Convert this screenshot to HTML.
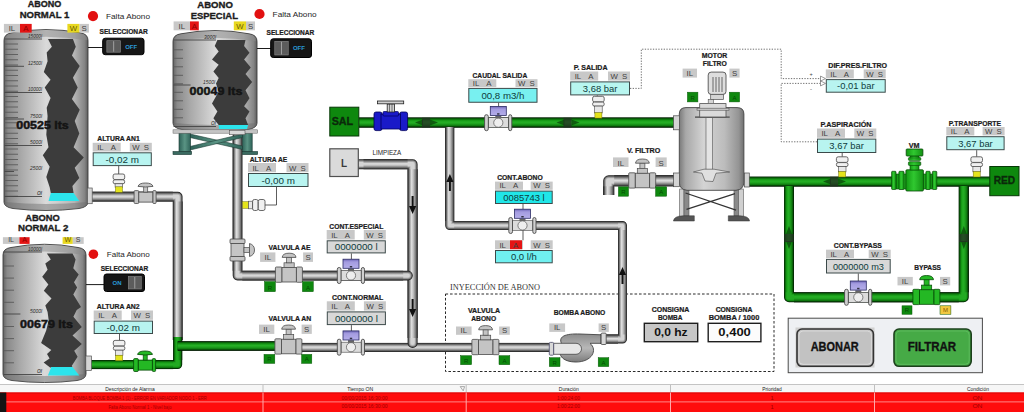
<!DOCTYPE html><html><head><meta charset="utf-8"><style>html,body{margin:0;padding:0;background:#fff;overflow:hidden;width:1024px;height:412px}svg{display:block}</style></head><body>
<svg width="1024" height="412" viewBox="0 0 1024 412" font-family='"Liberation Sans", sans-serif'>
<defs>
<linearGradient id="tg" x1="0" x2="1" y1="0" y2="0">
<stop offset="0" stop-color="#646464"/><stop offset="0.05" stop-color="#8a8a8a"/>
<stop offset="0.2" stop-color="#a8a8a8"/><stop offset="0.36" stop-color="#c2c2c2"/>
<stop offset="0.5" stop-color="#dadada"/><stop offset="0.62" stop-color="#d0d0d0"/>
<stop offset="0.84" stop-color="#b4b4b4"/><stop offset="0.96" stop-color="#848484"/><stop offset="1" stop-color="#5c5c5c"/>
</linearGradient>
<linearGradient id="fg" x1="0" x2="1" y1="0" y2="0">
<stop offset="0" stop-color="#7a7a7a"/><stop offset="0.1" stop-color="#a8a8a8"/>
<stop offset="0.38" stop-color="#d4d4d4"/><stop offset="0.7" stop-color="#bcbcbc"/><stop offset="0.92" stop-color="#949494"/><stop offset="1" stop-color="#707070"/>
</linearGradient>
<linearGradient id="lg" x1="0" x2="1" y1="0" y2="0">
<stop offset="0" stop-color="#2e6258"/><stop offset="0.5" stop-color="#5a9484"/><stop offset="1" stop-color="#2e6258"/>
</linearGradient>
<linearGradient id="vmg" x1="0" x2="1" y1="0" y2="0">
<stop offset="0" stop-color="#129a12"/><stop offset="0.45" stop-color="#30c830"/><stop offset="1" stop-color="#129012"/>
</linearGradient>
<linearGradient id="pg" x1="0" x2="0" y1="0" y2="1">
<stop offset="0" stop-color="#8c8c8c"/><stop offset="0.5" stop-color="#b8b8b8"/><stop offset="1" stop-color="#7c7c7c"/>
</linearGradient>
<linearGradient id="gph" x1="0" x2="0" y1="0" y2="1">
<stop offset="0" stop-color="#1c1c1c"/><stop offset="0.1" stop-color="#4a4a4a"/><stop offset="0.28" stop-color="#9a9a9a"/>
<stop offset="0.45" stop-color="#dedede"/><stop offset="0.6" stop-color="#c6c6c6"/><stop offset="0.8" stop-color="#7c7c7c"/>
<stop offset="0.9" stop-color="#4c4c4c"/><stop offset="1" stop-color="#1c1c1c"/>
</linearGradient>
<linearGradient id="gpv" x1="0" x2="1" y1="0" y2="0">
<stop offset="0" stop-color="#1c1c1c"/><stop offset="0.1" stop-color="#4a4a4a"/><stop offset="0.22" stop-color="#9a9a9a"/>
<stop offset="0.38" stop-color="#dedede"/><stop offset="0.55" stop-color="#c6c6c6"/><stop offset="0.8" stop-color="#7c7c7c"/>
<stop offset="0.9" stop-color="#4c4c4c"/><stop offset="1" stop-color="#1c1c1c"/>
</linearGradient>
<linearGradient id="gnh" x1="0" x2="0" y1="0" y2="1">
<stop offset="0" stop-color="#021c02"/><stop offset="0.1" stop-color="#075a07"/><stop offset="0.28" stop-color="#169a16"/>
<stop offset="0.45" stop-color="#26b026"/><stop offset="0.62" stop-color="#1ea21e"/><stop offset="0.82" stop-color="#0e760e"/>
<stop offset="0.9" stop-color="#054605"/><stop offset="1" stop-color="#011401"/>
</linearGradient>
<linearGradient id="gnv" x1="0" x2="1" y1="0" y2="0">
<stop offset="0" stop-color="#021c02"/><stop offset="0.1" stop-color="#075a07"/><stop offset="0.26" stop-color="#169a16"/>
<stop offset="0.42" stop-color="#26b026"/><stop offset="0.6" stop-color="#1ea21e"/><stop offset="0.82" stop-color="#0e760e"/>
<stop offset="0.9" stop-color="#054605"/><stop offset="1" stop-color="#011401"/>
</linearGradient>
<linearGradient id="fmg" x1="0" x2="0" y1="0" y2="1">
<stop offset="0" stop-color="#6e66b8"/><stop offset="0.3" stop-color="#a49ce0"/><stop offset="1" stop-color="#b4aeea"/>
</linearGradient>
</defs>
<rect x="0.00" y="0.00" width="1024.00" height="412.00" fill="#ffffff" stroke="none" stroke-width="1" rx="0" />
<rect x="445.5" y="294" width="328.5" height="77.5" fill="none" stroke="#2a2a2a" stroke-width="1" stroke-dasharray="2.6,1.9"/>
<path d="M91.0,196.6 L177.7,196.6 L177.7,340.0" fill="none" stroke="#202020" stroke-width="9.7" stroke-linejoin="round" stroke-linecap="butt"/>
<path d="M91.0,196.6 L177.7,196.6 L177.7,340.0" fill="none" stroke="#5a5a5a" stroke-width="8.299999999999999" stroke-linejoin="round" stroke-linecap="butt"/>
<path d="M91.0,196.6 L177.7,196.6 L177.7,340.0" fill="none" stroke="#8a8a8a" stroke-width="6.8999999999999995" stroke-linejoin="round" stroke-linecap="butt"/>
<path d="M91.0,196.6 L177.7,196.6 L177.7,340.0" fill="none" stroke="#b4b4b4" stroke-width="5.499999999999999" stroke-linejoin="round" stroke-linecap="butt"/>
<path d="M91.0,196.6 L177.7,196.6 L177.7,340.0" fill="none" stroke="#d4d4d4" stroke-width="3.8999999999999995" stroke-linejoin="round" stroke-linecap="butt"/>
<rect x="91.00" y="191.75" width="81.85" height="9.7" fill="url(#gph)"/>
<rect x="172.85" y="201.45" width="9.7" height="138.55" fill="url(#gpv)"/>
<path d="M177.7,337.0 L177.7,364.6 L90.0,364.6" fill="none" stroke="#032203" stroke-width="9" stroke-linejoin="round" stroke-linecap="butt"/>
<path d="M177.7,337.0 L177.7,364.6 L90.0,364.6" fill="none" stroke="#0b6c0b" stroke-width="7.4" stroke-linejoin="round" stroke-linecap="butt"/>
<path d="M177.7,337.0 L177.7,364.6 L90.0,364.6" fill="none" stroke="#179a17" stroke-width="5.8" stroke-linejoin="round" stroke-linecap="butt"/>
<path d="M177.7,337.0 L177.7,364.6 L90.0,364.6" fill="none" stroke="#22aa22" stroke-width="4" stroke-linejoin="round" stroke-linecap="butt"/>
<rect x="173.20" y="337.00" width="9" height="23.10" fill="url(#gnv)"/>
<rect x="90.00" y="360.10" width="83.20" height="9" fill="url(#gnh)"/>
<path d="M177.7,346.0 L276.0,346.0" fill="none" stroke="#032203" stroke-width="9.3" stroke-linejoin="round" stroke-linecap="butt"/>
<path d="M177.7,346.0 L276.0,346.0" fill="none" stroke="#0b6c0b" stroke-width="7.700000000000001" stroke-linejoin="round" stroke-linecap="butt"/>
<path d="M177.7,346.0 L276.0,346.0" fill="none" stroke="#179a17" stroke-width="6.1000000000000005" stroke-linejoin="round" stroke-linecap="butt"/>
<path d="M177.7,346.0 L276.0,346.0" fill="none" stroke="#22aa22" stroke-width="4.300000000000001" stroke-linejoin="round" stroke-linecap="butt"/>
<rect x="177.70" y="341.35" width="98.30" height="9.3" fill="url(#gnh)"/>
<path d="M301.0,347.4 L550.0,347.4" fill="none" stroke="#202020" stroke-width="9" stroke-linejoin="round" stroke-linecap="butt"/>
<path d="M301.0,347.4 L550.0,347.4" fill="none" stroke="#5a5a5a" stroke-width="7.6" stroke-linejoin="round" stroke-linecap="butt"/>
<path d="M301.0,347.4 L550.0,347.4" fill="none" stroke="#8a8a8a" stroke-width="6.2" stroke-linejoin="round" stroke-linecap="butt"/>
<path d="M301.0,347.4 L550.0,347.4" fill="none" stroke="#b4b4b4" stroke-width="4.8" stroke-linejoin="round" stroke-linecap="butt"/>
<path d="M301.0,347.4 L550.0,347.4" fill="none" stroke="#d4d4d4" stroke-width="3.2" stroke-linejoin="round" stroke-linecap="butt"/>
<rect x="301.00" y="342.90" width="249.00" height="9" fill="url(#gph)"/>
<path d="M358.5,164.2 L412.6,164.2 L412.6,343.0" fill="none" stroke="#202020" stroke-width="10" stroke-linejoin="round" stroke-linecap="round"/>
<path d="M358.5,164.2 L412.6,164.2 L412.6,343.0" fill="none" stroke="#5a5a5a" stroke-width="8.6" stroke-linejoin="round" stroke-linecap="round"/>
<path d="M358.5,164.2 L412.6,164.2 L412.6,343.0" fill="none" stroke="#8a8a8a" stroke-width="7.2" stroke-linejoin="round" stroke-linecap="round"/>
<path d="M358.5,164.2 L412.6,164.2 L412.6,343.0" fill="none" stroke="#b4b4b4" stroke-width="5.8" stroke-linejoin="round" stroke-linecap="round"/>
<path d="M358.5,164.2 L412.6,164.2 L412.6,343.0" fill="none" stroke="#d4d4d4" stroke-width="4.2" stroke-linejoin="round" stroke-linecap="round"/>
<rect x="363.50" y="159.20" width="44.10" height="10" fill="url(#gph)"/>
<rect x="407.60" y="169.20" width="10" height="168.80" fill="url(#gpv)"/>
<path d="M237.5,133.0 L237.5,275.6 L408.0,275.6" fill="none" stroke="#202020" stroke-width="9.6" stroke-linejoin="round" stroke-linecap="round"/>
<path d="M237.5,133.0 L237.5,275.6 L408.0,275.6" fill="none" stroke="#5a5a5a" stroke-width="8.2" stroke-linejoin="round" stroke-linecap="round"/>
<path d="M237.5,133.0 L237.5,275.6 L408.0,275.6" fill="none" stroke="#8a8a8a" stroke-width="6.8" stroke-linejoin="round" stroke-linecap="round"/>
<path d="M237.5,133.0 L237.5,275.6 L408.0,275.6" fill="none" stroke="#b4b4b4" stroke-width="5.3999999999999995" stroke-linejoin="round" stroke-linecap="round"/>
<path d="M237.5,133.0 L237.5,275.6 L408.0,275.6" fill="none" stroke="#d4d4d4" stroke-width="3.8" stroke-linejoin="round" stroke-linecap="round"/>
<rect x="232.70" y="137.80" width="9.6" height="133.00" fill="url(#gpv)"/>
<rect x="242.30" y="270.80" width="160.90" height="9.6" fill="url(#gph)"/>
<path d="M359.0,122.6 L674.0,122.6" fill="none" stroke="#032203" stroke-width="10" stroke-linejoin="round" stroke-linecap="butt"/>
<path d="M359.0,122.6 L674.0,122.6" fill="none" stroke="#0b6c0b" stroke-width="8.4" stroke-linejoin="round" stroke-linecap="butt"/>
<path d="M359.0,122.6 L674.0,122.6" fill="none" stroke="#179a17" stroke-width="6.8" stroke-linejoin="round" stroke-linecap="butt"/>
<path d="M359.0,122.6 L674.0,122.6" fill="none" stroke="#22aa22" stroke-width="5" stroke-linejoin="round" stroke-linecap="butt"/>
<rect x="359.00" y="117.60" width="315.00" height="10" fill="url(#gnh)"/>
<path d="M449.7,127.0 L449.7,225.5 L622.5,225.5 L622.5,339.0 L600.0,339.0" fill="none" stroke="#202020" stroke-width="9" stroke-linejoin="round" stroke-linecap="butt"/>
<path d="M449.7,127.0 L449.7,225.5 L622.5,225.5 L622.5,339.0 L600.0,339.0" fill="none" stroke="#5a5a5a" stroke-width="7.6" stroke-linejoin="round" stroke-linecap="butt"/>
<path d="M449.7,127.0 L449.7,225.5 L622.5,225.5 L622.5,339.0 L600.0,339.0" fill="none" stroke="#8a8a8a" stroke-width="6.2" stroke-linejoin="round" stroke-linecap="butt"/>
<path d="M449.7,127.0 L449.7,225.5 L622.5,225.5 L622.5,339.0 L600.0,339.0" fill="none" stroke="#b4b4b4" stroke-width="4.8" stroke-linejoin="round" stroke-linecap="butt"/>
<path d="M449.7,127.0 L449.7,225.5 L622.5,225.5 L622.5,339.0 L600.0,339.0" fill="none" stroke="#d4d4d4" stroke-width="3.2" stroke-linejoin="round" stroke-linecap="butt"/>
<rect x="445.20" y="127.00" width="9" height="94.00" fill="url(#gpv)"/>
<rect x="454.20" y="221.00" width="163.80" height="9" fill="url(#gph)"/>
<rect x="618.00" y="230.00" width="9" height="104.50" fill="url(#gpv)"/>
<rect x="600.00" y="334.50" width="18.00" height="9" fill="url(#gph)"/>
<path d="M608.7,195.0 L608.7,180.8 L674.0,180.8" fill="none" stroke="#202020" stroke-width="11" stroke-linejoin="round" stroke-linecap="butt"/>
<path d="M608.7,195.0 L608.7,180.8 L674.0,180.8" fill="none" stroke="#5a5a5a" stroke-width="9.6" stroke-linejoin="round" stroke-linecap="butt"/>
<path d="M608.7,195.0 L608.7,180.8 L674.0,180.8" fill="none" stroke="#8a8a8a" stroke-width="8.2" stroke-linejoin="round" stroke-linecap="butt"/>
<path d="M608.7,195.0 L608.7,180.8 L674.0,180.8" fill="none" stroke="#b4b4b4" stroke-width="6.8" stroke-linejoin="round" stroke-linecap="butt"/>
<path d="M608.7,195.0 L608.7,180.8 L674.0,180.8" fill="none" stroke="#d4d4d4" stroke-width="5.2" stroke-linejoin="round" stroke-linecap="butt"/>
<rect x="603.20" y="186.30" width="11" height="8.70" fill="url(#gpv)"/>
<rect x="614.20" y="175.30" width="59.80" height="11" fill="url(#gph)"/>
<path d="M749.0,181.6 L990.0,181.6" fill="none" stroke="#032203" stroke-width="9.8" stroke-linejoin="round" stroke-linecap="butt"/>
<path d="M749.0,181.6 L990.0,181.6" fill="none" stroke="#0b6c0b" stroke-width="8.200000000000001" stroke-linejoin="round" stroke-linecap="butt"/>
<path d="M749.0,181.6 L990.0,181.6" fill="none" stroke="#179a17" stroke-width="6.6000000000000005" stroke-linejoin="round" stroke-linecap="butt"/>
<path d="M749.0,181.6 L990.0,181.6" fill="none" stroke="#22aa22" stroke-width="4.800000000000001" stroke-linejoin="round" stroke-linecap="butt"/>
<rect x="749.00" y="176.70" width="241.00" height="9.8" fill="url(#gnh)"/>
<path d="M789.0,186.0 L789.0,297.3 L963.8,297.3 L963.8,186.0" fill="none" stroke="#032203" stroke-width="10" stroke-linejoin="round" stroke-linecap="butt"/>
<path d="M789.0,186.0 L789.0,297.3 L963.8,297.3 L963.8,186.0" fill="none" stroke="#0b6c0b" stroke-width="8.4" stroke-linejoin="round" stroke-linecap="butt"/>
<path d="M789.0,186.0 L789.0,297.3 L963.8,297.3 L963.8,186.0" fill="none" stroke="#179a17" stroke-width="6.8" stroke-linejoin="round" stroke-linecap="butt"/>
<path d="M789.0,186.0 L789.0,297.3 L963.8,297.3 L963.8,186.0" fill="none" stroke="#22aa22" stroke-width="5" stroke-linejoin="round" stroke-linecap="butt"/>
<rect x="784.00" y="186.00" width="10" height="106.30" fill="url(#gnv)"/>
<rect x="794.00" y="292.30" width="164.80" height="10" fill="url(#gnh)"/>
<rect x="958.80" y="186.00" width="10" height="106.30" fill="url(#gnv)"/>
<path d="M409.0,206 L416.20000000000005,206 L412.6,214 Z M411.6,196 L413.6,196 L413.6,207 L411.6,207 Z" fill="#111"/>
<path d="M409.0,309 L416.20000000000005,309 L412.6,317 Z M411.6,299 L413.6,299 L413.6,310 L411.6,310 Z" fill="#111"/>
<path d="M446.29999999999995,182 L453.5,182 L449.9,174 Z M448.9,191 L450.9,191 L450.9,181 L448.9,181 Z" fill="#111"/>
<path d="M618.9,275 L626.1,275 L622.5,267 Z M621.5,284 L623.5,284 L623.5,274 L621.5,274 Z" fill="#111"/>
<path d="M415,122.6 L423,119.6 L423,125.6 Z M438,122.6 L430,119.6 L430,125.6 Z" fill="#0a4a0a" opacity="0.8"/>
<rect x="422" y="117.8" width="8" height="9.6" fill="#262e26" opacity="0.75"/>
<path d="M556.5,122.6 L564.5,119.6 L564.5,125.6 Z M579.5,122.6 L571.5,119.6 L571.5,125.6 Z" fill="#0a4a0a" opacity="0.8"/>
<rect x="563.5" y="117.8" width="8" height="9.6" fill="#262e26" opacity="0.75"/>
<path d="M823,181.6 L831,178.6 L831,184.6 Z M846,181.6 L838,178.6 L838,184.6 Z" fill="#0a4a0a" opacity="0.8"/>
<rect x="830" y="176.79999999999998" width="8" height="9.6" fill="#262e26" opacity="0.75"/>
<path d="M789,249 L786,241 L792,241 Z M789,226 L786,234 L792,234 Z" fill="#0a4a0a" opacity="0.8"/>
<rect x="784.2" y="234" width="9.6" height="8" fill="#262e26" opacity="0.75"/>
<path d="M963.8,249 L960.8,241 L966.8,241 Z M963.8,226 L960.8,234 L966.8,234 Z" fill="#0a4a0a" opacity="0.8"/>
<rect x="959.0" y="234" width="9.6" height="8" fill="#262e26" opacity="0.75"/>
<text x="44.5" y="7.2" font-size="9.3" font-weight="bold" text-anchor="middle" fill="#1c1c1c" textLength="33.6" lengthAdjust="spacingAndGlyphs" stroke="#1c1c1c" stroke-width="0.35">ABONO</text>
<text x="44.5" y="18.2" font-size="9.5" font-weight="bold" text-anchor="middle" fill="#1c1c1c" textLength="49.6" lengthAdjust="spacingAndGlyphs" stroke="#1c1c1c" stroke-width="0.35">NORMAL 1</text>
<path d="M4,40.3 Q4,33.8 12,32.8 Q46.0,26.3 80,32.8 Q88,33.8 88,40.3 L88,202 Q88,207 79,208.5 Q46.0,212.5 13,208.5 Q4,207 4,202 Z" fill="url(#tg)" stroke="#3c3c3c" stroke-width="0.9"/>
<path d="M5,40.3 Q5,34.3 12,33.5 Q46.0,27.1 80,33.5 Q87,34.3 87,40.3 Q46.0,33.3 5,40.3 Z" fill="#8a8a8a" opacity="0.5"/>
<path d="M4.5,202 Q46.0,206 87.5,202 Q88,207 79,208.5 Q46.0,212.5 13,208.5 Q4,207 4.5,202 Z" fill="#6a6a6a" opacity="0.45"/>
<polygon points="48,39 72.9,39 75.8,46.7 71.9,55.4 79.7,66.1 72.9,77.7 77.7,87.5 71.9,99.1 79.7,109.8 74.7,121 79.3,133.6 73.6,147.3 83.8,157.6 74.7,167.8 79.3,178 72.4,186 73.6,193 50.8,193 49.7,187.2 46.3,176.9 49.7,166.7 42.8,155.3 48.5,147.3 46.3,134.8 47.6,116 46.7,107.8 50.6,98 44.7,87.5 50.6,79.7 43.8,71.9 47.6,61.2 46.7,52.5 51.9,46.7" fill="#3c3c3c"/>
<polygon points="50.8,193 73.6,193 79.3,201 48.5,201" fill="#2ce4ec"/>
<line x1="4.5" y1="44.0" x2="18" y2="44.0" stroke="#5a5a5a" stroke-width="0.9" />
<line x1="4.5" y1="49.25" x2="18" y2="49.25" stroke="#5a5a5a" stroke-width="0.9" />
<line x1="4.5" y1="54.5" x2="18" y2="54.5" stroke="#5a5a5a" stroke-width="0.9" />
<line x1="4.5" y1="59.75" x2="18" y2="59.75" stroke="#5a5a5a" stroke-width="0.9" />
<line x1="4.5" y1="65.0" x2="18" y2="65.0" stroke="#5a5a5a" stroke-width="0.9" />
<line x1="4.5" y1="70.25" x2="18" y2="70.25" stroke="#5a5a5a" stroke-width="0.9" />
<line x1="4.5" y1="75.5" x2="18" y2="75.5" stroke="#5a5a5a" stroke-width="0.9" />
<line x1="4.5" y1="80.75" x2="18" y2="80.75" stroke="#5a5a5a" stroke-width="0.9" />
<line x1="4.5" y1="86.0" x2="18" y2="86.0" stroke="#5a5a5a" stroke-width="0.9" />
<line x1="4.5" y1="91.25" x2="18" y2="91.25" stroke="#5a5a5a" stroke-width="0.9" />
<line x1="4.5" y1="96.5" x2="18" y2="96.5" stroke="#5a5a5a" stroke-width="0.9" />
<line x1="4.5" y1="101.75" x2="18" y2="101.75" stroke="#5a5a5a" stroke-width="0.9" />
<line x1="4.5" y1="107.0" x2="18" y2="107.0" stroke="#5a5a5a" stroke-width="0.9" />
<line x1="4.5" y1="112.25" x2="18" y2="112.25" stroke="#5a5a5a" stroke-width="0.9" />
<line x1="4.5" y1="117.5" x2="18" y2="117.5" stroke="#5a5a5a" stroke-width="0.9" />
<line x1="4.5" y1="122.75" x2="18" y2="122.75" stroke="#5a5a5a" stroke-width="0.9" />
<line x1="4.5" y1="128.0" x2="18" y2="128.0" stroke="#5a5a5a" stroke-width="0.9" />
<line x1="4.5" y1="133.25" x2="18" y2="133.25" stroke="#5a5a5a" stroke-width="0.9" />
<line x1="4.5" y1="138.5" x2="18" y2="138.5" stroke="#5a5a5a" stroke-width="0.9" />
<line x1="4.5" y1="143.75" x2="18" y2="143.75" stroke="#5a5a5a" stroke-width="0.9" />
<line x1="4.5" y1="149.0" x2="18" y2="149.0" stroke="#5a5a5a" stroke-width="0.9" />
<line x1="4.5" y1="154.25" x2="18" y2="154.25" stroke="#5a5a5a" stroke-width="0.9" />
<line x1="4.5" y1="159.5" x2="18" y2="159.5" stroke="#5a5a5a" stroke-width="0.9" />
<line x1="4.5" y1="164.75" x2="18" y2="164.75" stroke="#5a5a5a" stroke-width="0.9" />
<line x1="4.5" y1="170.0" x2="18" y2="170.0" stroke="#5a5a5a" stroke-width="0.9" />
<line x1="4.5" y1="175.25" x2="18" y2="175.25" stroke="#5a5a5a" stroke-width="0.9" />
<line x1="4.5" y1="180.5" x2="18" y2="180.5" stroke="#5a5a5a" stroke-width="0.9" />
<line x1="4.5" y1="185.75" x2="18" y2="185.75" stroke="#5a5a5a" stroke-width="0.9" />
<line x1="4.5" y1="191.0" x2="18" y2="191.0" stroke="#5a5a5a" stroke-width="0.9" />
<line x1="4.5" y1="196.25" x2="18" y2="196.25" stroke="#5a5a5a" stroke-width="0.9" />
<line x1="4.5" y1="39.0" x2="42" y2="39.0" stroke="#444" stroke-width="0.9" />
<text x="42.0" y="37.7" font-size="6" font-weight="normal" text-anchor="end" fill="#2a2a2a" textLength="14" lengthAdjust="spacingAndGlyphs" font-style="italic">15000l</text>
<line x1="4.5" y1="66.3" x2="24" y2="66.3" stroke="#444" stroke-width="0.9" />
<text x="42.0" y="65.0" font-size="6" font-weight="normal" text-anchor="end" fill="#2a2a2a" textLength="14" lengthAdjust="spacingAndGlyphs" font-style="italic">12500l</text>
<line x1="4.5" y1="92.5" x2="42" y2="92.5" stroke="#444" stroke-width="0.9" />
<text x="42.0" y="91.2" font-size="6" font-weight="normal" text-anchor="end" fill="#2a2a2a" textLength="14" lengthAdjust="spacingAndGlyphs" font-style="italic">10000l</text>
<line x1="4.5" y1="119.0" x2="24" y2="119.0" stroke="#444" stroke-width="0.9" />
<text x="42.0" y="117.7" font-size="6" font-weight="normal" text-anchor="end" fill="#2a2a2a" textLength="12" lengthAdjust="spacingAndGlyphs" font-style="italic">7500l</text>
<line x1="4.5" y1="145.5" x2="42" y2="145.5" stroke="#444" stroke-width="0.9" />
<text x="42.0" y="144.2" font-size="6" font-weight="normal" text-anchor="end" fill="#2a2a2a" textLength="12" lengthAdjust="spacingAndGlyphs" font-style="italic">5000l</text>
<line x1="4.5" y1="171.5" x2="14" y2="171.5" stroke="#444" stroke-width="0.9" />
<text x="42.0" y="170.2" font-size="6" font-weight="normal" text-anchor="end" fill="#2a2a2a" textLength="12" lengthAdjust="spacingAndGlyphs" font-style="italic">2500l</text>
<line x1="4.5" y1="196.5" x2="42" y2="196.5" stroke="#444" stroke-width="0.9" />
<text x="42.0" y="195.2" font-size="6" font-weight="normal" text-anchor="end" fill="#2a2a2a" textLength="5" lengthAdjust="spacingAndGlyphs" font-style="italic">0l</text>
<text x="42.5" y="128.6" font-size="11.5" font-weight="bold" text-anchor="middle" fill="#141414" textLength="52.5" lengthAdjust="spacingAndGlyphs" stroke="#141414" stroke-width="0.5">00525 lts</text>
<rect x="3.90" y="23.90" width="16.10" height="8.70" fill="#c8c8c8" stroke="none" stroke-width="1" rx="0" />
<text x="11.9" y="31.1" font-size="7.8" font-weight="normal" text-anchor="middle" fill="#404040" >IL</text>
<rect x="20.00" y="23.90" width="11.70" height="8.70" fill="#e41414" stroke="none" stroke-width="1" rx="0" />
<text x="25.9" y="31.1" font-size="7.8" font-weight="normal" text-anchor="middle" fill="#8a0000" >A</text>
<rect x="67.40" y="23.90" width="12.20" height="8.70" fill="#e8d820" stroke="none" stroke-width="1" rx="0" />
<text x="73.5" y="31.1" font-size="7.8" font-weight="normal" text-anchor="middle" fill="#6a5a00" >W</text>
<rect x="79.60" y="23.90" width="9.30" height="8.70" fill="#c8c8c8" stroke="none" stroke-width="1" rx="0" />
<text x="84.2" y="31.1" font-size="7.8" font-weight="normal" text-anchor="middle" fill="#404040" >S</text>
<circle cx="93" cy="16.1" r="5.1" fill="#e21010"/>
<text x="106.0" y="19.2" font-size="8.1" font-weight="normal" text-anchor="start" fill="#262626" textLength="44" lengthAdjust="spacingAndGlyphs" >Falta Abono</text>
<text x="123.6" y="34.0" font-size="6.5" font-weight="bold" text-anchor="middle" fill="#1c1c1c" textLength="48.2" lengthAdjust="spacingAndGlyphs" stroke="#1c1c1c" stroke-width="0.22">SELECCIONAR</text>
<line x1="88" y1="47.5" x2="103" y2="47.5" stroke="#1a1a1a" stroke-width="1" />
<rect x="102.70" y="38.20" width="41.30" height="16.50" fill="#161616" stroke="#000" stroke-width="1" rx="2.5" />
<rect x="106.83" y="40.70" width="13.63" height="11.50" fill="#5c5c5c" stroke="#8a8a8a" stroke-width="0.6" rx="0" />
<line x1="113.64450000000001" y1="41.2" x2="113.64450000000001" y2="51.7" stroke="#a0a0a0" stroke-width="1" />
<text x="131.2" y="48.6" font-size="6" font-weight="bold" text-anchor="middle" fill="#2a9ad8" >OFF</text>
<rect x="87.40" y="188.00" width="4.80" height="15.70" fill="#d4d4d4" stroke="#555" stroke-width="0.7" rx="0" />
<text x="215.1" y="7.6" font-size="9.3" font-weight="bold" text-anchor="middle" fill="#1c1c1c" textLength="35.5" lengthAdjust="spacingAndGlyphs" stroke="#1c1c1c" stroke-width="0.35">ABONO</text>
<text x="214.3" y="18.6" font-size="9.5" font-weight="bold" text-anchor="middle" fill="#1c1c1c" textLength="47.3" lengthAdjust="spacingAndGlyphs" stroke="#1c1c1c" stroke-width="0.35">ESPECIAL</text>
<g fill="url(#lg)" stroke="#1c3a34" stroke-width="0.6">
<path d="M190,134 L242.5,146 L242.5,149.5 L190,137.5 Z"/><path d="M190,146.5 L242.5,134 L242.5,137.5 L190,150 Z"/>
<rect x="179.00" y="133.00" width="11.60" height="18.70" fill="url(#lg)" stroke="#1c3a34" stroke-width="0.6" rx="0" />
<rect x="242.40" y="133.00" width="9.80" height="18.70" fill="url(#lg)" stroke="#1c3a34" stroke-width="0.6" rx="0" />
<rect x="173.00" y="151.50" width="18.60" height="3.10" fill="#3a6a60" stroke="#1c3a34" stroke-width="0.6" rx="0" />
<rect x="242.40" y="151.50" width="15.30" height="3.10" fill="#3a6a60" stroke="#1c3a34" stroke-width="0.6" rx="0" />
</g>
<path d="M173,41.3 Q173,34.8 181,33.8 Q215.0,27.3 249,33.8 Q257,34.8 257,41.3 L257,123 Q257,128 248,129.5 Q215.0,133.5 182,129.5 Q173,128 173,123 Z" fill="url(#tg)" stroke="#3c3c3c" stroke-width="0.9"/>
<path d="M174,41.3 Q174,35.3 181,34.5 Q215.0,28.1 249,34.5 Q256,35.3 256,41.3 Q215.0,34.3 174,41.3 Z" fill="#8a8a8a" opacity="0.5"/>
<path d="M173.5,123 Q215.0,127 256.5,123 Q257,128 248,129.5 Q215.0,133.5 182,129.5 Q173,128 173.5,123 Z" fill="#6a6a6a" opacity="0.45"/>
<polygon points="217.4,39.9 245.5,39.9 244.1,46 249.5,52.7 244.1,59.4 250.8,67.4 245.5,74.1 252.1,82.1 245.5,90.2 249.5,98.2 244.1,106.2 249.5,111.6 245.5,118.2 248.1,125 218.7,125 213.4,118.2 217.4,111.6 212,103.5 218.7,91.5 216,83.5 218.7,78.1 213.4,71.5 218.7,64.8 212,59.4 218.7,51.4 214.7,46" fill="#3c3c3c"/>
<polygon points="218.7,125 248.1,125 247,129 219,129" fill="#2ce4ec"/>
<line x1="173.5" y1="49.8" x2="183" y2="49.8" stroke="#5a5a5a" stroke-width="0.9" />
<line x1="173.5" y1="58.3" x2="183" y2="58.3" stroke="#5a5a5a" stroke-width="0.9" />
<line x1="173.5" y1="66.8" x2="183" y2="66.8" stroke="#5a5a5a" stroke-width="0.9" />
<line x1="173.5" y1="75.3" x2="183" y2="75.3" stroke="#5a5a5a" stroke-width="0.9" />
<line x1="173.5" y1="83.8" x2="183" y2="83.8" stroke="#5a5a5a" stroke-width="0.9" />
<line x1="173.5" y1="92.3" x2="183" y2="92.3" stroke="#5a5a5a" stroke-width="0.9" />
<line x1="173.5" y1="100.8" x2="183" y2="100.8" stroke="#5a5a5a" stroke-width="0.9" />
<line x1="173.5" y1="109.3" x2="183" y2="109.3" stroke="#5a5a5a" stroke-width="0.9" />
<line x1="173.5" y1="117.8" x2="183" y2="117.8" stroke="#5a5a5a" stroke-width="0.9" />
<line x1="173.5" y1="40.0" x2="216" y2="40.0" stroke="#444" stroke-width="0.9" />
<text x="216.0" y="38.7" font-size="6" font-weight="normal" text-anchor="end" fill="#2a2a2a" textLength="12" lengthAdjust="spacingAndGlyphs" font-style="italic">3000l</text>
<line x1="173.5" y1="85.0" x2="190.6" y2="85.0" stroke="#444" stroke-width="0.9" />
<text x="215.0" y="83.7" font-size="6" font-weight="normal" text-anchor="end" fill="#2a2a2a" textLength="12" lengthAdjust="spacingAndGlyphs" font-style="italic">1500l</text>
<line x1="173.5" y1="126.5" x2="216" y2="126.5" stroke="#444" stroke-width="0.9" />
<text x="216.0" y="125.2" font-size="6" font-weight="normal" text-anchor="end" fill="#2a2a2a" textLength="5" lengthAdjust="spacingAndGlyphs" font-style="italic">0l</text>
<text x="216.0" y="95.0" font-size="11.5" font-weight="bold" text-anchor="middle" fill="#141414" textLength="52.8" lengthAdjust="spacingAndGlyphs" stroke="#141414" stroke-width="0.5">00049 lts</text>
<rect x="173.00" y="129.80" width="84.70" height="3.40" fill="#c4c4c4" stroke="#666" stroke-width="0.5" rx="0" />
<rect x="229.30" y="130.40" width="15.70" height="4.30" fill="#d8d8d8" stroke="#555" stroke-width="0.6" rx="0" />
<rect x="173.60" y="21.40" width="16.40" height="8.90" fill="#c8c8c8" stroke="none" stroke-width="1" rx="0" />
<text x="181.8" y="28.8" font-size="7.8" font-weight="normal" text-anchor="middle" fill="#404040" >IL</text>
<rect x="190.00" y="21.40" width="8.80" height="8.90" fill="#e41414" stroke="none" stroke-width="1" rx="0" />
<text x="194.4" y="28.8" font-size="7.8" font-weight="normal" text-anchor="middle" fill="#8a0000" >A</text>
<rect x="233.80" y="21.40" width="12.20" height="8.90" fill="#e8d820" stroke="none" stroke-width="1" rx="0" />
<text x="239.9" y="28.8" font-size="7.8" font-weight="normal" text-anchor="middle" fill="#6a5a00" >W</text>
<rect x="246.00" y="21.40" width="9.00" height="8.90" fill="#c8c8c8" stroke="none" stroke-width="1" rx="0" />
<text x="250.5" y="28.8" font-size="7.8" font-weight="normal" text-anchor="middle" fill="#404040" >S</text>
<circle cx="259.5" cy="14" r="5.1" fill="#e21010"/>
<text x="272.6" y="17.2" font-size="8.1" font-weight="normal" text-anchor="start" fill="#262626" textLength="44" lengthAdjust="spacingAndGlyphs" >Falta Abono</text>
<text x="290.4" y="35.0" font-size="6.5" font-weight="bold" text-anchor="middle" fill="#1c1c1c" textLength="47.8" lengthAdjust="spacingAndGlyphs" stroke="#1c1c1c" stroke-width="0.22">SELECCIONAR</text>
<line x1="257" y1="48.5" x2="271" y2="48.5" stroke="#1a1a1a" stroke-width="1" />
<rect x="270.70" y="38.80" width="40.80" height="18.70" fill="#161616" stroke="#000" stroke-width="1" rx="2.5" />
<rect x="274.78" y="41.30" width="13.46" height="13.70" fill="#5c5c5c" stroke="#8a8a8a" stroke-width="0.6" rx="0" />
<line x1="281.512" y1="41.8" x2="281.512" y2="54.5" stroke="#a0a0a0" stroke-width="1" />
<text x="298.9" y="50.2" font-size="6" font-weight="bold" text-anchor="middle" fill="#2a9ad8" >OFF</text>
<text x="42.5" y="220.7" font-size="9.3" font-weight="bold" text-anchor="middle" fill="#1c1c1c" textLength="34.6" lengthAdjust="spacingAndGlyphs" stroke="#1c1c1c" stroke-width="0.35">ABONO</text>
<text x="43.1" y="231.0" font-size="9.5" font-weight="bold" text-anchor="middle" fill="#1c1c1c" textLength="50.4" lengthAdjust="spacingAndGlyphs" stroke="#1c1c1c" stroke-width="0.35">NORMAL 2</text>
<path d="M3,255 Q3,248.5 11,247.5 Q44.5,241 78,247.5 Q86,248.5 86,255 L86,374 Q86,379 77,380.5 Q44.5,384.5 12,380.5 Q3,379 3,374 Z" fill="url(#tg)" stroke="#3c3c3c" stroke-width="0.9"/>
<path d="M4,255 Q4,249 11,248.2 Q44.5,241.8 78,248.2 Q85,249 85,255 Q44.5,248 4,255 Z" fill="#8a8a8a" opacity="0.5"/>
<path d="M3.5,374 Q44.5,378 85.5,374 Q86,379 77,380.5 Q44.5,384.5 12,380.5 Q3,379 3.5,374 Z" fill="#6a6a6a" opacity="0.45"/>
<polygon points="72.5,253.4 75.6,259.6 73.3,268.2 78.7,274.4 74,282.2 77.1,287.6 73.3,294.6 81,307 76.7,310 73.4,316.8 81.8,327 72.5,335.5 81.8,344 74.2,350.7 77.6,356.7 71.7,366 72.5,367 51.3,367 50.4,367.7 43.6,362.6 49.6,358.4 47,354.1 51.3,349.9 41.1,343.1 46.2,330.4 48.7,320.2 47.6,312 45.3,305.5 51.5,298.5 43.8,290.7 48.4,284.5 42.2,276.7 47.6,269.7 45.3,263.5 50.8,259.6 46.9,253.4" fill="#3c3c3c"/>
<polygon points="51.3,366.9 72.5,366.9 79.3,375.4 47.9,375.4" fill="#2ce4ec"/>
<line x1="3.5" y1="266.0" x2="14" y2="266.0" stroke="#5a5a5a" stroke-width="0.9" />
<line x1="3.5" y1="278.1" x2="14" y2="278.1" stroke="#5a5a5a" stroke-width="0.9" />
<line x1="3.5" y1="290.2" x2="14" y2="290.2" stroke="#5a5a5a" stroke-width="0.9" />
<line x1="3.5" y1="302.3" x2="14" y2="302.3" stroke="#5a5a5a" stroke-width="0.9" />
<line x1="3.5" y1="326.5" x2="14" y2="326.5" stroke="#5a5a5a" stroke-width="0.9" />
<line x1="3.5" y1="338.6" x2="14" y2="338.6" stroke="#5a5a5a" stroke-width="0.9" />
<line x1="3.5" y1="350.7" x2="14" y2="350.7" stroke="#5a5a5a" stroke-width="0.9" />
<line x1="3.5" y1="362.8" x2="14" y2="362.8" stroke="#5a5a5a" stroke-width="0.9" />
<line x1="3.5" y1="252.0" x2="42" y2="252.0" stroke="#444" stroke-width="0.9" />
<text x="42.0" y="250.7" font-size="6" font-weight="normal" text-anchor="end" fill="#2a2a2a" textLength="14" lengthAdjust="spacingAndGlyphs" font-style="italic">10000l</text>
<line x1="3.5" y1="314.0" x2="20.4" y2="314.0" stroke="#444" stroke-width="0.9" />
<text x="42.0" y="312.7" font-size="6" font-weight="normal" text-anchor="end" fill="#2a2a2a" textLength="12" lengthAdjust="spacingAndGlyphs" font-style="italic">5000l</text>
<line x1="3.5" y1="374.5" x2="42" y2="374.5" stroke="#444" stroke-width="0.9" />
<text x="42.0" y="373.2" font-size="6" font-weight="normal" text-anchor="end" fill="#2a2a2a" textLength="5" lengthAdjust="spacingAndGlyphs" font-style="italic">0l</text>
<text x="46.5" y="328.0" font-size="11.5" font-weight="bold" text-anchor="middle" fill="#141414" textLength="52.9" lengthAdjust="spacingAndGlyphs" stroke="#141414" stroke-width="0.5">00679 lts</text>
<rect x="2.90" y="237.20" width="16.50" height="6.70" fill="#c8c8c8" stroke="none" stroke-width="1" rx="0" />
<text x="11.1" y="242.4" font-size="7" font-weight="normal" text-anchor="middle" fill="#404040" >IL</text>
<rect x="19.40" y="237.20" width="10.20" height="6.70" fill="#e41414" stroke="none" stroke-width="1" rx="0" />
<text x="24.5" y="242.4" font-size="7" font-weight="normal" text-anchor="middle" fill="#8a0000" >A</text>
<rect x="62.60" y="237.20" width="10.20" height="6.70" fill="#e8d820" stroke="none" stroke-width="1" rx="0" />
<text x="67.7" y="242.4" font-size="7" font-weight="normal" text-anchor="middle" fill="#6a5a00" >W</text>
<rect x="72.80" y="237.20" width="10.90" height="6.70" fill="#c8c8c8" stroke="none" stroke-width="1" rx="0" />
<text x="78.2" y="242.4" font-size="7" font-weight="normal" text-anchor="middle" fill="#404040" >S</text>
<circle cx="93.4" cy="254.2" r="4.8" fill="#e21010"/>
<text x="106.8" y="257.0" font-size="8.1" font-weight="normal" text-anchor="start" fill="#262626" textLength="43" lengthAdjust="spacingAndGlyphs" >Falta Abono</text>
<text x="124.5" y="270.5" font-size="6.5" font-weight="bold" text-anchor="middle" fill="#1c1c1c" textLength="47.6" lengthAdjust="spacingAndGlyphs" stroke="#1c1c1c" stroke-width="0.22">SELECCIONAR</text>
<line x1="86" y1="284.6" x2="104" y2="284.6" stroke="#1a1a1a" stroke-width="1" />
<rect x="104.00" y="274.00" width="40.50" height="17.50" fill="#161616" stroke="#000" stroke-width="1" rx="2.5" />
<rect x="128.30" y="276.50" width="12.96" height="12.50" fill="#5c5c5c" stroke="#8a8a8a" stroke-width="0.6" rx="0" />
<line x1="134.78" y1="277" x2="134.78" y2="288.5" stroke="#a0a0a0" stroke-width="1" />
<text x="117.0" y="284.9" font-size="6" font-weight="bold" text-anchor="middle" fill="#2a9ad8" >ON</text>
<rect x="85.80" y="356.00" width="5.70" height="14.40" fill="#d4d4d4" stroke="#555" stroke-width="0.7" rx="0" />
<text x="118.5" y="141.4" font-size="6.7" font-weight="bold" text-anchor="middle" fill="#1c1c1c" textLength="42.5" lengthAdjust="spacingAndGlyphs" stroke="#1c1c1c" stroke-width="0.22">ALTURA AN1</text>
<rect x="92.70" y="142.80" width="28.00" height="8.70" fill="#c8c8c8" stroke="none" stroke-width="1" rx="0" />
<rect x="129.80" y="142.80" width="22.00" height="8.70" fill="#c8c8c8" stroke="none" stroke-width="1" rx="0" />
<text x="100.4" y="149.9" font-size="7.8" font-weight="normal" text-anchor="middle" fill="#404040" >IL</text>
<text x="113.3" y="149.9" font-size="7.8" font-weight="normal" text-anchor="middle" fill="#404040" >A</text>
<text x="136.0" y="149.9" font-size="7.8" font-weight="normal" text-anchor="middle" fill="#404040" >W</text>
<text x="146.4" y="149.9" font-size="7.8" font-weight="normal" text-anchor="middle" fill="#404040" >S</text>
<rect x="93.20" y="152.80" width="58.10" height="12.80" fill="#b8f4f0" stroke="#3c4a4a" stroke-width="1" rx="0" />
<text x="122.2" y="162.7" font-size="9.9" font-weight="normal" text-anchor="middle" fill="#0e3c3c" textLength="33.5" lengthAdjust="spacingAndGlyphs" >-0,02 m</text>
<line x1="118.7" y1="166" x2="118.7" y2="174" stroke="#333" stroke-width="0.8" />
<rect x="113.10" y="174.00" width="11.60" height="5.60" fill="#f0f0f0" stroke="#444" stroke-width="0.8" rx="1.8" />
<rect x="113.10" y="179.80" width="11.60" height="4.00" fill="#f0f0f0" stroke="#444" stroke-width="0.8" rx="1.8" />
<rect x="115.10" y="183.80" width="7.60" height="3.40" fill="#e8e8e8" stroke="#444" stroke-width="0.6" rx="0" />
<rect x="115.40" y="186.80" width="7.00" height="5.50" fill="#e4e41c" stroke="#707010" stroke-width="0.5" rx="0" />
<rect x="134.10" y="190.60" width="4.70" height="12.90" fill="#c4c4c4" stroke="#4a4a4a" stroke-width="0.8" rx="1" />
<rect x="152.80" y="190.60" width="3.30" height="12.90" fill="#c4c4c4" stroke="#4a4a4a" stroke-width="0.8" rx="1" />
<rect x="138.80" y="192.10" width="14.00" height="10.00" fill="#c4c4c4" stroke="#4a4a4a" stroke-width="0.8" rx="0" />
<rect x="143.70" y="186.60" width="4.00" height="5.50" fill="#c4c4c4" stroke="#4a4a4a" stroke-width="0.7" rx="0" />
<path d="M138.0,186.4 Q139.0,183.0 145.5,183.0 Q152.0,183.0 153.0,186.4 Q145.5,187.6 138.0,186.4 Z" fill="#c4c4c4" stroke="#4a4a4a" stroke-width="0.8"/>
<text x="118.2" y="309.1" font-size="6.7" font-weight="bold" text-anchor="middle" fill="#1c1c1c" textLength="43.0" lengthAdjust="spacingAndGlyphs" stroke="#1c1c1c" stroke-width="0.22">ALTURA AN2</text>
<rect x="93.70" y="310.50" width="28.00" height="9.30" fill="#c8c8c8" stroke="none" stroke-width="1" rx="0" />
<rect x="131.00" y="310.50" width="22.00" height="9.30" fill="#c8c8c8" stroke="none" stroke-width="1" rx="0" />
<text x="101.4" y="318.2" font-size="7.8" font-weight="normal" text-anchor="middle" fill="#404040" >IL</text>
<text x="114.3" y="318.2" font-size="7.8" font-weight="normal" text-anchor="middle" fill="#404040" >A</text>
<text x="137.2" y="318.2" font-size="7.8" font-weight="normal" text-anchor="middle" fill="#404040" >W</text>
<text x="147.6" y="318.2" font-size="7.8" font-weight="normal" text-anchor="middle" fill="#404040" >S</text>
<rect x="94.20" y="321.10" width="58.30" height="12.40" fill="#b8f4f0" stroke="#3c4a4a" stroke-width="1" rx="0" />
<text x="123.3" y="330.8" font-size="9.9" font-weight="normal" text-anchor="middle" fill="#0e3c3c" textLength="33.5" lengthAdjust="spacingAndGlyphs" >-0,02 m</text>
<line x1="119.5" y1="334" x2="119.5" y2="340.4" stroke="#333" stroke-width="0.8" />
<rect x="113.30" y="340.40" width="11.60" height="5.60" fill="#f0f0f0" stroke="#444" stroke-width="0.8" rx="1.8" />
<rect x="113.30" y="346.20" width="11.60" height="4.00" fill="#f0f0f0" stroke="#444" stroke-width="0.8" rx="1.8" />
<rect x="115.30" y="350.20" width="7.60" height="5.40" fill="#e8e8e8" stroke="#444" stroke-width="0.6" rx="0" />
<rect x="115.60" y="355.20" width="7.00" height="5.50" fill="#e4e41c" stroke="#707010" stroke-width="0.5" rx="0" />
<rect x="133.60" y="358.60" width="4.70" height="12.90" fill="#24b824" stroke="#064a06" stroke-width="0.8" rx="1" />
<rect x="152.30" y="358.60" width="3.30" height="12.90" fill="#24b824" stroke="#064a06" stroke-width="0.8" rx="1" />
<rect x="138.30" y="360.10" width="14.00" height="10.00" fill="#24b824" stroke="#064a06" stroke-width="0.8" rx="0" />
<rect x="143.20" y="354.60" width="4.00" height="5.50" fill="#24b824" stroke="#064a06" stroke-width="0.7" rx="0" />
<path d="M137.5,354.40000000000003 Q138.5,351.0 145,351.0 Q151.5,351.0 152.5,354.40000000000003 Q145,355.6 137.5,354.40000000000003 Z" fill="#24b824" stroke="#064a06" stroke-width="0.8"/>
<text x="268.5" y="161.6" font-size="6.7" font-weight="bold" text-anchor="middle" fill="#1c1c1c" textLength="37.6" lengthAdjust="spacingAndGlyphs" stroke="#1c1c1c" stroke-width="0.22">ALTURA AE</text>
<rect x="248.00" y="163.00" width="28.00" height="9.20" fill="#c8c8c8" stroke="none" stroke-width="1" rx="0" />
<rect x="286.50" y="163.00" width="22.00" height="9.20" fill="#c8c8c8" stroke="none" stroke-width="1" rx="0" />
<text x="255.7" y="170.6" font-size="7.8" font-weight="normal" text-anchor="middle" fill="#404040" >IL</text>
<text x="268.6" y="170.6" font-size="7.8" font-weight="normal" text-anchor="middle" fill="#404040" >A</text>
<text x="292.7" y="170.6" font-size="7.8" font-weight="normal" text-anchor="middle" fill="#404040" >W</text>
<text x="303.1" y="170.6" font-size="7.8" font-weight="normal" text-anchor="middle" fill="#404040" >S</text>
<rect x="248.50" y="173.50" width="59.50" height="13.00" fill="#b8f4f0" stroke="#3c4a4a" stroke-width="1" rx="0" />
<text x="278.2" y="183.5" font-size="9.9" font-weight="normal" text-anchor="middle" fill="#0e3c3c" textLength="33.5" lengthAdjust="spacingAndGlyphs" >-0,00 m</text>
<line x1="276.5" y1="187" x2="276.5" y2="205" stroke="#333" stroke-width="0.8" />
<line x1="265" y1="205" x2="276.5" y2="205" stroke="#333" stroke-width="0.8" />
<rect x="242.60" y="201.70" width="6.00" height="6.60" fill="#e4e41c" stroke="#707010" stroke-width="0.5" rx="0" />
<rect x="248.60" y="201.20" width="4.00" height="7.60" fill="#e8e8e8" stroke="#444" stroke-width="0.6" rx="0" />
<rect x="252.60" y="199.50" width="5.50" height="11.00" fill="#f0f0f0" stroke="#444" stroke-width="0.8" rx="1.8" />
<rect x="258.30" y="199.50" width="6.70" height="11.00" fill="#f0f0f0" stroke="#444" stroke-width="0.8" rx="1.8" />
<rect x="230.00" y="239.00" width="15.00" height="4.50" fill="#c4c4c4" stroke="#4a4a4a" stroke-width="0.8" rx="1" />
<rect x="230.00" y="256.50" width="15.00" height="4.50" fill="#c4c4c4" stroke="#4a4a4a" stroke-width="0.8" rx="1" />
<rect x="231.00" y="243.50" width="13.00" height="13.00" fill="#c4c4c4" stroke="#4a4a4a" stroke-width="0.8" rx="0" />
<rect x="244.00" y="247.50" width="5.50" height="5.00" fill="#c4c4c4" stroke="#4a4a4a" stroke-width="0.7" rx="0" />
<path d="M249.5,243.5 Q254.5,245 254.5,250 Q254.5,255 249.5,256.5 Z" fill="#c4c4c4" stroke="#4a4a4a" stroke-width="0.8"/>
<text x="289.5" y="249.9" font-size="6.7" font-weight="bold" text-anchor="middle" fill="#1c1c1c" textLength="41.9" lengthAdjust="spacingAndGlyphs" stroke="#1c1c1c" stroke-width="0.22">VALVULA AE</text>
<rect x="260.10" y="252.40" width="15.30" height="9.50" fill="#c8c8c8" stroke="none" stroke-width="1" rx="0" />
<text x="267.8" y="260.4" font-size="7.8" font-weight="normal" text-anchor="middle" fill="#404040" >IL</text>
<rect x="303.10" y="252.40" width="9.90" height="9.50" fill="#c8c8c8" stroke="none" stroke-width="1" rx="0" />
<text x="308.1" y="260.4" font-size="7.8" font-weight="normal" text-anchor="middle" fill="#404040" >S</text>
<rect x="275.40" y="267.00" width="6.60" height="15.30" fill="#c4c4c4" stroke="#4a4a4a" stroke-width="0.8" rx="1" />
<rect x="296.30" y="267.00" width="6.10" height="15.30" fill="#c4c4c4" stroke="#4a4a4a" stroke-width="0.8" rx="1" />
<rect x="282.00" y="267.40" width="14.30" height="14.60" fill="#c4c4c4" stroke="#4a4a4a" stroke-width="0.8" rx="0" />
<rect x="284.00" y="262.80" width="10.20" height="4.60" fill="#c4c4c4" stroke="#4a4a4a" stroke-width="0.7" rx="0" />
<rect x="286.60" y="257.20" width="5.00" height="5.60" fill="#c4c4c4" stroke="#4a4a4a" stroke-width="0.7" rx="0" />
<path d="M282.2,257.4 Q282.5,253.2 289.1,253.2 Q295.7,253.2 296,257.4 Z" fill="#c4c4c4" stroke="#4a4a4a" stroke-width="0.8"/>
<rect x="264.50" y="281.50" width="10.90" height="10.20" fill="#0e880e" stroke="#0a5a0a" stroke-width="0.5" rx="0" />
<text x="269.9" y="289.7" font-size="6" font-weight="normal" text-anchor="middle" fill="#044a04" >R</text>
<rect x="302.40" y="281.50" width="10.90" height="10.20" fill="#0e880e" stroke="#0a5a0a" stroke-width="0.5" rx="0" />
<text x="307.9" y="289.7" font-size="6" font-weight="normal" text-anchor="middle" fill="#044a04" >A</text>
<text x="356.3" y="228.6" font-size="6.7" font-weight="bold" text-anchor="middle" fill="#1c1c1c" textLength="54.0" lengthAdjust="spacingAndGlyphs" stroke="#1c1c1c" stroke-width="0.22">CONT.ESPECIAL</text>
<rect x="326.70" y="230.00" width="28.00" height="9.50" fill="#c8c8c8" stroke="none" stroke-width="1" rx="0" />
<rect x="363.80" y="230.00" width="22.00" height="9.50" fill="#c8c8c8" stroke="none" stroke-width="1" rx="0" />
<text x="334.4" y="237.9" font-size="7.8" font-weight="normal" text-anchor="middle" fill="#404040" >IL</text>
<text x="347.3" y="237.9" font-size="7.8" font-weight="normal" text-anchor="middle" fill="#404040" >A</text>
<text x="370.0" y="237.9" font-size="7.8" font-weight="normal" text-anchor="middle" fill="#404040" >W</text>
<text x="380.4" y="237.9" font-size="7.8" font-weight="normal" text-anchor="middle" fill="#404040" >S</text>
<rect x="327.20" y="240.80" width="58.10" height="12.10" fill="#d8d8d8" stroke="#3c4a4a" stroke-width="1" rx="0" />
<text x="356.2" y="250.3" font-size="9.9" font-weight="normal" text-anchor="middle" fill="#0e3c3c" textLength="43" lengthAdjust="spacingAndGlyphs" >0000000 l</text>
<line x1="351.4" y1="253.4" x2="351.4" y2="259.2" stroke="#333" stroke-width="0.8" />
<rect x="341.00" y="270.50" width="20.30" height="10.00" fill="#dcdcdc" stroke="#4a4a4a" stroke-width="0.6" rx="0" />
<circle cx="351" cy="275.5" r="4.6" fill="#eeeeee" stroke="#555" stroke-width="0.7"/>
<rect x="337.30" y="267.50" width="3.70" height="16.00" fill="#d0d0d0" stroke="#4a4a4a" stroke-width="0.9" rx="1.8" />
<rect x="361.30" y="267.50" width="3.20" height="16.00" fill="#d0d0d0" stroke="#4a4a4a" stroke-width="0.9" rx="1.8" />
<rect x="348.00" y="268.50" width="6.00" height="2.50" fill="#666" stroke="none" stroke-width="1" rx="0" />
<rect x="343.00" y="259.20" width="16.00" height="9.10" fill="url(#fmg)" stroke="#2c2c64" stroke-width="0.8" rx="0" />
<rect x="349.80" y="266.00" width="2.40" height="1.50" fill="#334" stroke="none" stroke-width="1" rx="0" />
<text x="289.9" y="321.0" font-size="6.7" font-weight="bold" text-anchor="middle" fill="#1c1c1c" textLength="42.8" lengthAdjust="spacingAndGlyphs" stroke="#1c1c1c" stroke-width="0.22">VALVULA AN</text>
<rect x="259.00" y="324.60" width="15.30" height="9.30" fill="#c8c8c8" stroke="none" stroke-width="1" rx="0" />
<text x="266.6" y="332.4" font-size="7.8" font-weight="normal" text-anchor="middle" fill="#404040" >IL</text>
<rect x="301.60" y="324.60" width="10.20" height="9.30" fill="#c8c8c8" stroke="none" stroke-width="1" rx="0" />
<text x="306.7" y="332.4" font-size="7.8" font-weight="normal" text-anchor="middle" fill="#404040" >S</text>
<rect x="274.90" y="338.80" width="6.60" height="15.30" fill="#c4c4c4" stroke="#4a4a4a" stroke-width="0.8" rx="1" />
<rect x="295.80" y="338.80" width="6.10" height="15.30" fill="#c4c4c4" stroke="#4a4a4a" stroke-width="0.8" rx="1" />
<rect x="281.50" y="339.20" width="14.30" height="14.60" fill="#c4c4c4" stroke="#4a4a4a" stroke-width="0.8" rx="0" />
<rect x="283.50" y="334.60" width="10.20" height="4.60" fill="#c4c4c4" stroke="#4a4a4a" stroke-width="0.7" rx="0" />
<rect x="286.10" y="329.00" width="5.00" height="5.60" fill="#c4c4c4" stroke="#4a4a4a" stroke-width="0.7" rx="0" />
<path d="M281.7,329.2 Q282.0,325.0 288.6,325.0 Q295.2,325.0 295.5,329.2 Z" fill="#c4c4c4" stroke="#4a4a4a" stroke-width="0.8"/>
<rect x="264.00" y="354.40" width="10.80" height="9.00" fill="#0e880e" stroke="#0a5a0a" stroke-width="0.5" rx="0" />
<text x="269.4" y="361.4" font-size="6" font-weight="normal" text-anchor="middle" fill="#044a04" >R</text>
<rect x="301.60" y="354.40" width="10.20" height="9.00" fill="#0e880e" stroke="#0a5a0a" stroke-width="0.5" rx="0" />
<text x="306.7" y="361.4" font-size="6" font-weight="normal" text-anchor="middle" fill="#044a04" >A</text>
<text x="357.6" y="299.9" font-size="6.7" font-weight="bold" text-anchor="middle" fill="#1c1c1c" textLength="51.2" lengthAdjust="spacingAndGlyphs" stroke="#1c1c1c" stroke-width="0.22">CONT.NORMAL</text>
<rect x="326.80" y="301.30" width="28.00" height="9.30" fill="#c8c8c8" stroke="none" stroke-width="1" rx="0" />
<rect x="363.90" y="301.30" width="22.00" height="9.30" fill="#c8c8c8" stroke="none" stroke-width="1" rx="0" />
<text x="334.5" y="309.0" font-size="7.8" font-weight="normal" text-anchor="middle" fill="#404040" >IL</text>
<text x="347.4" y="309.0" font-size="7.8" font-weight="normal" text-anchor="middle" fill="#404040" >A</text>
<text x="370.1" y="309.0" font-size="7.8" font-weight="normal" text-anchor="middle" fill="#404040" >W</text>
<text x="380.5" y="309.0" font-size="7.8" font-weight="normal" text-anchor="middle" fill="#404040" >S</text>
<rect x="327.30" y="311.90" width="58.10" height="12.70" fill="#d8d8d8" stroke="#3c4a4a" stroke-width="1" rx="0" />
<text x="356.4" y="321.7" font-size="9.9" font-weight="normal" text-anchor="middle" fill="#0e3c3c" textLength="43" lengthAdjust="spacingAndGlyphs" >0000000 l</text>
<line x1="351.4" y1="325.1" x2="351.4" y2="331.4" stroke="#333" stroke-width="0.8" />
<rect x="341.00" y="342.20" width="20.30" height="10.00" fill="#dcdcdc" stroke="#4a4a4a" stroke-width="0.6" rx="0" />
<circle cx="351" cy="347.2" r="4.6" fill="#eeeeee" stroke="#555" stroke-width="0.7"/>
<rect x="337.30" y="339.20" width="3.70" height="16.00" fill="#d0d0d0" stroke="#4a4a4a" stroke-width="0.9" rx="1.8" />
<rect x="361.30" y="339.20" width="3.20" height="16.00" fill="#d0d0d0" stroke="#4a4a4a" stroke-width="0.9" rx="1.8" />
<rect x="348.00" y="340.20" width="6.00" height="2.50" fill="#666" stroke="none" stroke-width="1" rx="0" />
<rect x="343.00" y="330.90" width="16.00" height="9.10" fill="url(#fmg)" stroke="#2c2c64" stroke-width="0.8" rx="0" />
<rect x="349.80" y="337.70" width="2.40" height="1.50" fill="#334" stroke="none" stroke-width="1" rx="0" />
<rect x="329.80" y="148.80" width="28.50" height="27.70" fill="#dadada" stroke="#505050" stroke-width="1.2" rx="0" />
<text x="344.0" y="166.5" font-size="10" font-weight="bold" text-anchor="middle" fill="#3a3a3a" >L</text>
<text x="386.8" y="155.0" font-size="6.3" font-weight="normal" text-anchor="middle" fill="#262626" textLength="28.8" lengthAdjust="spacingAndGlyphs" >LIMPIEZA</text>
<rect x="329.80" y="107.20" width="29.00" height="28.80" fill="#0e880e" stroke="#063806" stroke-width="1" rx="0" />
<text x="342.4" y="125.0" font-size="10" font-weight="bold" text-anchor="middle" fill="#0a2a0a" textLength="21.5" lengthAdjust="spacingAndGlyphs" stroke="#0a2a0a" stroke-width="0.3">SAL</text>
<rect x="374.00" y="112.00" width="8.00" height="18.60" fill="#1a1ac8" stroke="#00005a" stroke-width="0.8" rx="2" />
<rect x="399.60" y="112.00" width="8.00" height="18.60" fill="#1a1ac8" stroke="#00005a" stroke-width="0.8" rx="2" />
<rect x="381.00" y="114.00" width="19.60" height="15.00" fill="#1a1ac8" stroke="#00005a" stroke-width="0.8" rx="0" />
<rect x="383.00" y="111.50" width="15.50" height="4.50" fill="#1a1ac8" stroke="#00005a" stroke-width="0.7" rx="1" />
<rect x="387.20" y="104.00" width="7.30" height="8.00" fill="#d0d0d0" stroke="#222" stroke-width="0.8" rx="0" />
<line x1="389.5" y1="104" x2="389.5" y2="112" stroke="#333" stroke-width="0.6" />
<line x1="392" y1="104" x2="392" y2="112" stroke="#333" stroke-width="0.6" />
<rect x="377.50" y="101.00" width="26.20" height="2.80" fill="#d0d0d0" stroke="#222" stroke-width="0.8" rx="0" />
<text x="499.9" y="77.8" font-size="6.7" font-weight="bold" text-anchor="middle" fill="#1c1c1c" textLength="54.7" lengthAdjust="spacingAndGlyphs" stroke="#1c1c1c" stroke-width="0.22">CAUDAL SALIDA</text>
<rect x="468.30" y="79.20" width="28.00" height="7.90" fill="#c8c8c8" stroke="none" stroke-width="1" rx="0" />
<rect x="515.50" y="79.20" width="22.00" height="7.90" fill="#c8c8c8" stroke="none" stroke-width="1" rx="0" />
<text x="476.0" y="85.5" font-size="7.8" font-weight="normal" text-anchor="middle" fill="#404040" >IL</text>
<text x="488.9" y="85.5" font-size="7.8" font-weight="normal" text-anchor="middle" fill="#404040" >A</text>
<text x="521.7" y="85.5" font-size="7.8" font-weight="normal" text-anchor="middle" fill="#404040" >W</text>
<text x="532.1" y="85.5" font-size="7.8" font-weight="normal" text-anchor="middle" fill="#404040" >S</text>
<rect x="468.80" y="88.40" width="68.20" height="13.85" fill="#78f0f0" stroke="#3c4a4a" stroke-width="1" rx="0" />
<text x="502.9" y="98.8" font-size="9.9" font-weight="normal" text-anchor="middle" fill="#0e3c3c" textLength="43" lengthAdjust="spacingAndGlyphs" >00,8 m3/h</text>
<line x1="498.6" y1="102.75" x2="498.6" y2="106.5" stroke="#333" stroke-width="0.8" />
<rect x="488.30" y="117.70" width="20.30" height="10.00" fill="#dcdcdc" stroke="#4a4a4a" stroke-width="0.6" rx="0" />
<circle cx="498.3" cy="122.7" r="4.6" fill="#eeeeee" stroke="#555" stroke-width="0.7"/>
<rect x="484.60" y="114.70" width="3.70" height="16.00" fill="#d0d0d0" stroke="#4a4a4a" stroke-width="0.9" rx="1.8" />
<rect x="508.60" y="114.70" width="3.20" height="16.00" fill="#d0d0d0" stroke="#4a4a4a" stroke-width="0.9" rx="1.8" />
<rect x="495.30" y="115.70" width="6.00" height="2.50" fill="#666" stroke="none" stroke-width="1" rx="0" />
<rect x="490.30" y="106.40" width="16.00" height="9.10" fill="url(#fmg)" stroke="#2c2c64" stroke-width="0.8" rx="0" />
<rect x="497.10" y="113.20" width="2.40" height="1.50" fill="#334" stroke="none" stroke-width="1" rx="0" />
<text x="590.6" y="70.1" font-size="6.7" font-weight="bold" text-anchor="middle" fill="#1c1c1c" textLength="33.9" lengthAdjust="spacingAndGlyphs" stroke="#1c1c1c" stroke-width="0.22">P. SALIDA</text>
<rect x="570.20" y="71.50" width="28.00" height="9.10" fill="#c8c8c8" stroke="none" stroke-width="1" rx="0" />
<rect x="608.00" y="71.50" width="22.00" height="9.10" fill="#c8c8c8" stroke="none" stroke-width="1" rx="0" />
<text x="577.9" y="79.0" font-size="7.8" font-weight="normal" text-anchor="middle" fill="#404040" >IL</text>
<text x="590.8" y="79.0" font-size="7.8" font-weight="normal" text-anchor="middle" fill="#404040" >A</text>
<text x="614.2" y="79.0" font-size="7.8" font-weight="normal" text-anchor="middle" fill="#404040" >W</text>
<text x="624.6" y="79.0" font-size="7.8" font-weight="normal" text-anchor="middle" fill="#404040" >S</text>
<rect x="570.70" y="81.90" width="58.80" height="13.00" fill="#b8f6f0" stroke="#3c4a4a" stroke-width="1" rx="0" />
<text x="600.1" y="91.9" font-size="9.9" font-weight="normal" text-anchor="middle" fill="#0e3c3c" textLength="34.5" lengthAdjust="spacingAndGlyphs" >3,68 bar</text>
<line x1="597.3" y1="95.4" x2="597.3" y2="96.3" stroke="#333" stroke-width="0.8" />
<rect x="592.60" y="96.30" width="11.60" height="5.60" fill="#f0f0f0" stroke="#444" stroke-width="0.8" rx="1.8" />
<rect x="592.60" y="102.10" width="11.60" height="4.00" fill="#f0f0f0" stroke="#444" stroke-width="0.8" rx="1.8" />
<rect x="594.60" y="106.10" width="7.60" height="6.90" fill="#e8e8e8" stroke="#444" stroke-width="0.6" rx="0" />
<rect x="594.90" y="112.60" width="7.00" height="5.50" fill="#e4e41c" stroke="#707010" stroke-width="0.5" rx="0" />
<text x="520.0" y="180.2" font-size="6.7" font-weight="bold" text-anchor="middle" fill="#1c1c1c" textLength="45.6" lengthAdjust="spacingAndGlyphs" stroke="#1c1c1c" stroke-width="0.22">CONT.ABONO</text>
<rect x="495.00" y="181.60" width="28.00" height="8.20" fill="#c8c8c8" stroke="none" stroke-width="1" rx="0" />
<rect x="530.70" y="181.60" width="22.00" height="8.20" fill="#c8c8c8" stroke="none" stroke-width="1" rx="0" />
<text x="502.7" y="188.2" font-size="7.8" font-weight="normal" text-anchor="middle" fill="#404040" >IL</text>
<text x="515.6" y="188.2" font-size="7.8" font-weight="normal" text-anchor="middle" fill="#404040" >A</text>
<text x="536.9" y="188.2" font-size="7.8" font-weight="normal" text-anchor="middle" fill="#404040" >W</text>
<text x="547.3" y="188.2" font-size="7.8" font-weight="normal" text-anchor="middle" fill="#404040" >S</text>
<rect x="495.50" y="191.10" width="56.70" height="12.40" fill="#20e6e8" stroke="#3c4a4a" stroke-width="1" rx="0" />
<text x="523.9" y="200.8" font-size="9.9" font-weight="normal" text-anchor="middle" fill="#0e3c3c" textLength="41.5" lengthAdjust="spacingAndGlyphs" >0085743 l</text>
<line x1="523" y1="204" x2="523" y2="209.3" stroke="#333" stroke-width="0.8" />
<line x1="523" y1="230" x2="523" y2="240.3" stroke="#333" stroke-width="0.8" />
<rect x="512.50" y="220.50" width="20.30" height="10.00" fill="#dcdcdc" stroke="#4a4a4a" stroke-width="0.6" rx="0" />
<circle cx="522.5" cy="225.5" r="4.6" fill="#eeeeee" stroke="#555" stroke-width="0.7"/>
<rect x="508.80" y="217.50" width="3.70" height="16.00" fill="#d0d0d0" stroke="#4a4a4a" stroke-width="0.9" rx="1.8" />
<rect x="532.80" y="217.50" width="3.20" height="16.00" fill="#d0d0d0" stroke="#4a4a4a" stroke-width="0.9" rx="1.8" />
<rect x="519.50" y="218.50" width="6.00" height="2.50" fill="#666" stroke="none" stroke-width="1" rx="0" />
<rect x="514.50" y="209.20" width="16.00" height="9.10" fill="url(#fmg)" stroke="#2c2c64" stroke-width="0.8" rx="0" />
<rect x="521.30" y="216.00" width="2.40" height="1.50" fill="#334" stroke="none" stroke-width="1" rx="0" />
<rect x="495.00" y="240.30" width="28.00" height="8.90" fill="#c8c8c8" stroke="none" stroke-width="1" rx="0" />
<rect x="530.70" y="240.30" width="22.00" height="8.90" fill="#c8c8c8" stroke="none" stroke-width="1" rx="0" />
<rect x="510.00" y="240.30" width="12.00" height="8.90" fill="#e41414" stroke="none" stroke-width="1" rx="0" />
<text x="502.7" y="247.6" font-size="7.8" font-weight="normal" text-anchor="middle" fill="#404040" >IL</text>
<text x="515.6" y="247.6" font-size="7.8" font-weight="normal" text-anchor="middle" fill="#404040" >A</text>
<text x="536.9" y="247.6" font-size="7.8" font-weight="normal" text-anchor="middle" fill="#404040" >W</text>
<text x="547.3" y="247.6" font-size="7.8" font-weight="normal" text-anchor="middle" fill="#404040" >S</text>
<rect x="495.50" y="250.50" width="56.70" height="12.30" fill="#70f0f0" stroke="#3c4a4a" stroke-width="1" rx="0" />
<text x="523.9" y="260.1" font-size="9.9" font-weight="normal" text-anchor="middle" fill="#0e3c3c" textLength="26" lengthAdjust="spacingAndGlyphs" >0,0 l/h</text>
<text x="495.0" y="289.5" font-size="8.3" font-weight="normal" text-anchor="middle" fill="#333" textLength="90" lengthAdjust="spacingAndGlyphs" font-family="Liberation Serif">INYECCIÓN DE ABONO</text>
<text x="484.0" y="313.0" font-size="6.7" font-weight="bold" text-anchor="middle" fill="#1c1c1c" textLength="32.2" lengthAdjust="spacingAndGlyphs" stroke="#1c1c1c" stroke-width="0.22">VALVULA</text>
<text x="483.7" y="321.3" font-size="6.7" font-weight="bold" text-anchor="middle" fill="#1c1c1c" textLength="24.8" lengthAdjust="spacingAndGlyphs" stroke="#1c1c1c" stroke-width="0.22">ABONO</text>
<rect x="456.00" y="326.50" width="15.60" height="8.30" fill="#c8c8c8" stroke="none" stroke-width="1" rx="0" />
<text x="463.8" y="333.3" font-size="7.8" font-weight="normal" text-anchor="middle" fill="#404040" >IL</text>
<rect x="499.10" y="326.50" width="10.70" height="8.30" fill="#c8c8c8" stroke="none" stroke-width="1" rx="0" />
<text x="504.5" y="333.3" font-size="7.8" font-weight="normal" text-anchor="middle" fill="#404040" >S</text>
<rect x="471.90" y="339.40" width="6.60" height="15.30" fill="#c4c4c4" stroke="#4a4a4a" stroke-width="0.8" rx="1" />
<rect x="492.80" y="339.40" width="6.10" height="15.30" fill="#c4c4c4" stroke="#4a4a4a" stroke-width="0.8" rx="1" />
<rect x="478.50" y="339.80" width="14.30" height="14.60" fill="#c4c4c4" stroke="#4a4a4a" stroke-width="0.8" rx="0" />
<rect x="480.50" y="335.20" width="10.20" height="4.60" fill="#c4c4c4" stroke="#4a4a4a" stroke-width="0.7" rx="0" />
<rect x="483.10" y="329.60" width="5.00" height="5.60" fill="#c4c4c4" stroke="#4a4a4a" stroke-width="0.7" rx="0" />
<path d="M478.7,329.79999999999995 Q479.0,325.59999999999997 485.6,325.59999999999997 Q492.2,325.59999999999997 492.5,329.79999999999995 Z" fill="#c4c4c4" stroke="#4a4a4a" stroke-width="0.8"/>
<rect x="460.60" y="355.70" width="11.00" height="9.00" fill="#0e880e" stroke="#0a5a0a" stroke-width="0.5" rx="0" />
<text x="466.1" y="362.7" font-size="6" font-weight="normal" text-anchor="middle" fill="#044a04" >R</text>
<rect x="499.00" y="355.70" width="10.80" height="9.00" fill="#0e880e" stroke="#0a5a0a" stroke-width="0.5" rx="0" />
<text x="504.4" y="362.7" font-size="6" font-weight="normal" text-anchor="middle" fill="#044a04" >A</text>
<path d="M563,346 C556,336 566,333.5 580,334 L601,334.8 L601,343.3 L590,343.3 C598,350 592,362 576,362 C562,362 556,354 563,346 Z" fill="url(#pg)" stroke="#444" stroke-width="0.9"/>
<path d="M553.6,343.3 L576,343.3 A5.5,5.5 0 0 1 576,354.3 L553.6,354.3 Z" fill="#e6e6e6" stroke="#444" stroke-width="0.8"/>
<rect x="549.30" y="342.40" width="4.30" height="12.80" fill="#d8d8d8" stroke="#4a4a6a" stroke-width="0.8" rx="1" />
<rect x="601.10" y="333.10" width="5.10" height="11.40" fill="#d8d8d8" stroke="#444" stroke-width="0.8" rx="1" />
<text x="579.5" y="314.6" font-size="6.7" font-weight="bold" text-anchor="middle" fill="#1c1c1c" textLength="51.7" lengthAdjust="spacingAndGlyphs" stroke="#1c1c1c" stroke-width="0.22">BOMBA ABONO</text>
<rect x="549.30" y="323.40" width="15.80" height="8.50" fill="#c8c8c8" stroke="none" stroke-width="1" rx="0" />
<text x="557.2" y="330.4" font-size="7.8" font-weight="normal" text-anchor="middle" fill="#404040" >IL</text>
<rect x="598.60" y="323.40" width="10.20" height="8.50" fill="#c8c8c8" stroke="none" stroke-width="1" rx="0" />
<text x="603.7" y="330.4" font-size="7.8" font-weight="normal" text-anchor="middle" fill="#404040" >S</text>
<rect x="549.30" y="357.70" width="10.70" height="8.90" fill="#0e880e" stroke="#0a5a0a" stroke-width="0.5" rx="0" />
<text x="554.6" y="364.6" font-size="6" font-weight="normal" text-anchor="middle" fill="#044a04" >R</text>
<rect x="598.20" y="357.70" width="10.60" height="8.90" fill="#0e880e" stroke="#0a5a0a" stroke-width="0.5" rx="0" />
<text x="603.5" y="364.6" font-size="6" font-weight="normal" text-anchor="middle" fill="#044a04" >A</text>
<text x="670.5" y="311.6" font-size="6.7" font-weight="bold" text-anchor="middle" fill="#1c1c1c" textLength="37.6" lengthAdjust="spacingAndGlyphs" stroke="#1c1c1c" stroke-width="0.22">CONSIGNA</text>
<text x="670.2" y="319.6" font-size="6.7" font-weight="bold" text-anchor="middle" fill="#1c1c1c" textLength="24.5" lengthAdjust="spacingAndGlyphs" stroke="#1c1c1c" stroke-width="0.22">BOMBA</text>
<rect x="644.30" y="323.30" width="53.40" height="18.40" fill="#c6c6c6" stroke="#1e1e1e" stroke-width="1.4" rx="0" />
<text x="670.9" y="336.3" font-size="11" font-weight="bold" text-anchor="middle" fill="#111" textLength="33.5" lengthAdjust="spacingAndGlyphs" >0,0 hz</text>
<text x="734.0" y="311.6" font-size="6.7" font-weight="bold" text-anchor="middle" fill="#1c1c1c" textLength="36.6" lengthAdjust="spacingAndGlyphs" stroke="#1c1c1c" stroke-width="0.22">CONSIGNA</text>
<text x="734.0" y="319.6" font-size="6.7" font-weight="bold" text-anchor="middle" fill="#1c1c1c" textLength="50.6" lengthAdjust="spacingAndGlyphs" stroke="#1c1c1c" stroke-width="0.22">BOMBA / 1000</text>
<rect x="708.20" y="323.30" width="52.70" height="18.40" fill="#fcfcfc" stroke="#1e1e1e" stroke-width="1.4" rx="0" />
<text x="734.6" y="336.3" font-size="11" font-weight="bold" text-anchor="middle" fill="#111" textLength="32.5" lengthAdjust="spacingAndGlyphs" >0,400</text>
<path d="M630,88.4 L641.3,88.4 L641.3,49.2 L781.2,49.2 L781.2,78.6 L821,78.6" fill="none" stroke="#555" stroke-width="0.85" stroke-dasharray="1.3,1.4"/>
<path d="M817,141.8 L781.2,141.8 L781.2,83.4 L821,83.4" fill="none" stroke="#555" stroke-width="0.85" stroke-dasharray="1.3,1.4"/>
<path d="M820.5,76.1 L825.5,78.6 L820.5,81.1 Z M820.5,80.9 L825.5,83.4 L820.5,85.9 Z" fill="#fff" stroke="#555" stroke-width="0.6"/>
<text x="811.0" y="75.5" font-size="5.5" font-weight="normal" text-anchor="middle" fill="#444" >+</text>
<text x="811.0" y="91.0" font-size="6" font-weight="normal" text-anchor="middle" fill="#444" >-</text>
<rect x="679.70" y="189.00" width="4.30" height="28.00" fill="#d0d0d0" stroke="#555" stroke-width="0.6" rx="0" />
<rect x="684.00" y="189.00" width="5.00" height="27.00" fill="#8a8a8a" stroke="#555" stroke-width="0.6" rx="0" />
<rect x="734.00" y="189.00" width="4.50" height="27.00" fill="#8a8a8a" stroke="#555" stroke-width="0.6" rx="0" />
<rect x="738.50" y="189.00" width="4.80" height="28.00" fill="#d0d0d0" stroke="#555" stroke-width="0.6" rx="0" />
<path d="M685.5,193 L736,210.2 M686.5,209.3 L735,193.7" stroke="#333" stroke-width="1.3"/>
<path d="M673.4,221 Q674,216 683,215.8 L694.3,215.8 L694.3,221 Z" fill="#555" stroke="#333" stroke-width="0.5"/>
<path d="M749.6,221 Q749,216 740,215.8 L728.3,215.8 L728.3,221 Z" fill="#555" stroke="#333" stroke-width="0.5"/>
<path d="M679.3,114 Q679.3,107.6 686,107.6 L737,107.6 Q743.9,107.6 743.9,114 L743.9,182 Q743.9,189.6 736,190.3 L687,190.3 Q679.3,189.6 679.3,182 Z" fill="url(#fg)" stroke="#444" stroke-width="0.9"/>
<rect x="706.00" y="117.00" width="6.30" height="53.00" fill="#e4e4e4" stroke="#555" stroke-width="0.6" rx="0" />
<path d="M693.4,172 L704,169.2 L714,169.2 L729.7,172 L716,173.2 L713,181.5 L705,181 L702,173.2 Z" fill="#e0e0e0" stroke="#444" stroke-width="0.6"/>
<rect x="695.00" y="116.30" width="34.70" height="1.70" fill="#666" stroke="none" stroke-width="1" rx="0" />
<rect x="699.70" y="103.60" width="26.30" height="13.40" fill="#dadada" stroke="#505050" stroke-width="0.8" rx="0" />
<rect x="697.00" y="108.20" width="32.00" height="2.00" fill="#cfcfcf" stroke="#505050" stroke-width="0.6" rx="0" />
<rect x="708.20" y="72.10" width="17.80" height="22.30" fill="#dedede" stroke="#505050" stroke-width="0.9" rx="3" />
<line x1="713" y1="77" x2="713" y2="92" stroke="#5a5a5a" stroke-width="0.9" />
<line x1="716" y1="77" x2="716" y2="92" stroke="#5a5a5a" stroke-width="0.9" />
<line x1="719" y1="77" x2="719" y2="92" stroke="#5a5a5a" stroke-width="0.9" />
<line x1="722" y1="77" x2="722" y2="92" stroke="#5a5a5a" stroke-width="0.9" />
<rect x="710.70" y="94.40" width="12.80" height="5.20" fill="#d4d4d4" stroke="#505050" stroke-width="0.7" rx="0" />
<rect x="708.20" y="99.60" width="5.10" height="4.00" fill="#d4d4d4" stroke="#505050" stroke-width="0.6" rx="0" />
<rect x="673.60" y="115.80" width="5.80" height="14.00" fill="#d4d4d4" stroke="#4a4a4a" stroke-width="0.7" rx="0" />
<rect x="673.60" y="173.00" width="5.80" height="13.70" fill="#d4d4d4" stroke="#4a4a4a" stroke-width="0.7" rx="0" />
<rect x="744.60" y="173.00" width="4.70" height="14.00" fill="#d4d4d4" stroke="#4a4a4a" stroke-width="0.7" rx="0" />
<text x="714.5" y="58.2" font-size="6.7" font-weight="bold" text-anchor="middle" fill="#1c1c1c" textLength="25.6" lengthAdjust="spacingAndGlyphs" stroke="#1c1c1c" stroke-width="0.22">MOTOR</text>
<text x="714.8" y="66.2" font-size="6.7" font-weight="bold" text-anchor="middle" fill="#1c1c1c" textLength="24.1" lengthAdjust="spacingAndGlyphs" stroke="#1c1c1c" stroke-width="0.22">FILTRO</text>
<rect x="682.60" y="68.60" width="14.40" height="9.00" fill="#c8c8c8" stroke="none" stroke-width="1" rx="0" />
<text x="689.8" y="76.1" font-size="7.8" font-weight="normal" text-anchor="middle" fill="#404040" >IL</text>
<rect x="729.40" y="68.60" width="10.20" height="9.00" fill="#c8c8c8" stroke="none" stroke-width="1" rx="0" />
<text x="734.5" y="76.1" font-size="7.8" font-weight="normal" text-anchor="middle" fill="#404040" >S</text>
<rect x="687.40" y="92.20" width="10.50" height="9.70" fill="#0e880e" stroke="#0a5a0a" stroke-width="0.5" rx="0" />
<text x="692.6" y="99.9" font-size="6" font-weight="normal" text-anchor="middle" fill="#044a04" >R</text>
<rect x="729.40" y="92.20" width="10.20" height="9.70" fill="#0e880e" stroke="#0a5a0a" stroke-width="0.5" rx="0" />
<text x="734.5" y="99.9" font-size="6" font-weight="normal" text-anchor="middle" fill="#044a04" >A</text>
<text x="643.6" y="153.2" font-size="6.7" font-weight="bold" text-anchor="middle" fill="#1c1c1c" textLength="33.4" lengthAdjust="spacingAndGlyphs" stroke="#1c1c1c" stroke-width="0.22">V. FILTRO</text>
<rect x="613.00" y="157.40" width="15.50" height="9.60" fill="#c8c8c8" stroke="none" stroke-width="1" rx="0" />
<text x="620.8" y="165.5" font-size="7.8" font-weight="normal" text-anchor="middle" fill="#404040" >IL</text>
<rect x="655.60" y="157.40" width="11.10" height="9.60" fill="#c8c8c8" stroke="none" stroke-width="1" rx="0" />
<text x="661.2" y="165.5" font-size="7.8" font-weight="normal" text-anchor="middle" fill="#404040" >S</text>
<rect x="628.70" y="172.80" width="6.60" height="15.30" fill="#c4c4c4" stroke="#4a4a4a" stroke-width="0.8" rx="1" />
<rect x="649.60" y="172.80" width="6.10" height="15.30" fill="#c4c4c4" stroke="#4a4a4a" stroke-width="0.8" rx="1" />
<rect x="635.30" y="173.20" width="14.30" height="14.60" fill="#c4c4c4" stroke="#4a4a4a" stroke-width="0.8" rx="0" />
<rect x="637.30" y="168.60" width="10.20" height="4.60" fill="#c4c4c4" stroke="#4a4a4a" stroke-width="0.7" rx="0" />
<rect x="639.90" y="163.00" width="5.00" height="5.60" fill="#c4c4c4" stroke="#4a4a4a" stroke-width="0.7" rx="0" />
<path d="M635.5,163.20000000000002 Q635.8,159.0 642.4,159.0 Q649.0,159.0 649.3,163.20000000000002 Z" fill="#c4c4c4" stroke="#4a4a4a" stroke-width="0.8"/>
<rect x="618.40" y="186.80" width="10.10" height="9.40" fill="#0e880e" stroke="#0a5a0a" stroke-width="0.5" rx="0" />
<text x="623.5" y="194.2" font-size="6" font-weight="normal" text-anchor="middle" fill="#044a04" >R</text>
<rect x="655.60" y="186.80" width="11.10" height="9.40" fill="#0e880e" stroke="#0a5a0a" stroke-width="0.5" rx="0" />
<text x="661.2" y="194.2" font-size="6" font-weight="normal" text-anchor="middle" fill="#044a04" >A</text>
<text x="857.7" y="68.0" font-size="6.7" font-weight="bold" text-anchor="middle" fill="#1c1c1c" textLength="58.8" lengthAdjust="spacingAndGlyphs" stroke="#1c1c1c" stroke-width="0.22">DIF.PRES.FILTRO</text>
<rect x="825.80" y="69.40" width="28.00" height="8.90" fill="#c8c8c8" stroke="none" stroke-width="1" rx="0" />
<rect x="863.70" y="69.40" width="22.00" height="8.90" fill="#c8c8c8" stroke="none" stroke-width="1" rx="0" />
<text x="833.5" y="76.7" font-size="7.8" font-weight="normal" text-anchor="middle" fill="#404040" >IL</text>
<text x="846.4" y="76.7" font-size="7.8" font-weight="normal" text-anchor="middle" fill="#404040" >A</text>
<text x="869.9" y="76.7" font-size="7.8" font-weight="normal" text-anchor="middle" fill="#404040" >W</text>
<text x="880.3" y="76.7" font-size="7.8" font-weight="normal" text-anchor="middle" fill="#404040" >S</text>
<rect x="826.30" y="79.60" width="58.90" height="12.60" fill="#b8f4f0" stroke="#3c4a4a" stroke-width="1" rx="0" />
<text x="855.8" y="89.4" font-size="9.9" font-weight="normal" text-anchor="middle" fill="#0e3c3c" textLength="37.5" lengthAdjust="spacingAndGlyphs" >-0,01 bar</text>
<text x="846.0" y="127.1" font-size="6.7" font-weight="bold" text-anchor="middle" fill="#1c1c1c" textLength="51.1" lengthAdjust="spacingAndGlyphs" stroke="#1c1c1c" stroke-width="0.22">P.ASPIRACIÓN</text>
<rect x="817.00" y="128.50" width="28.00" height="9.30" fill="#c8c8c8" stroke="none" stroke-width="1" rx="0" />
<rect x="854.30" y="128.50" width="22.00" height="9.30" fill="#c8c8c8" stroke="none" stroke-width="1" rx="0" />
<text x="824.7" y="136.2" font-size="7.8" font-weight="normal" text-anchor="middle" fill="#404040" >IL</text>
<text x="837.6" y="136.2" font-size="7.8" font-weight="normal" text-anchor="middle" fill="#404040" >A</text>
<text x="860.5" y="136.2" font-size="7.8" font-weight="normal" text-anchor="middle" fill="#404040" >W</text>
<text x="870.9" y="136.2" font-size="7.8" font-weight="normal" text-anchor="middle" fill="#404040" >S</text>
<rect x="817.50" y="139.10" width="58.30" height="13.40" fill="#b8f4f0" stroke="#3c4a4a" stroke-width="1" rx="0" />
<text x="846.6" y="149.3" font-size="9.9" font-weight="normal" text-anchor="middle" fill="#0e3c3c" textLength="34.5" lengthAdjust="spacingAndGlyphs" >3,67 bar</text>
<line x1="842.2" y1="153" x2="842.2" y2="156.8" stroke="#333" stroke-width="0.8" />
<rect x="836.40" y="156.80" width="11.60" height="5.60" fill="#f0f0f0" stroke="#444" stroke-width="0.8" rx="1.8" />
<rect x="836.40" y="162.60" width="11.60" height="4.00" fill="#f0f0f0" stroke="#444" stroke-width="0.8" rx="1.8" />
<rect x="838.40" y="166.60" width="7.60" height="5.30" fill="#e8e8e8" stroke="#444" stroke-width="0.6" rx="0" />
<rect x="838.70" y="171.50" width="7.00" height="5.50" fill="#e4e41c" stroke="#707010" stroke-width="0.5" rx="0" />
<text x="974.9" y="125.6" font-size="6.7" font-weight="bold" text-anchor="middle" fill="#1c1c1c" textLength="52.3" lengthAdjust="spacingAndGlyphs" stroke="#1c1c1c" stroke-width="0.22">P.TRANSPORTE</text>
<rect x="946.30" y="127.00" width="28.00" height="8.40" fill="#c8c8c8" stroke="none" stroke-width="1" rx="0" />
<rect x="982.60" y="127.00" width="22.00" height="8.40" fill="#c8c8c8" stroke="none" stroke-width="1" rx="0" />
<text x="954.0" y="133.8" font-size="7.8" font-weight="normal" text-anchor="middle" fill="#404040" >IL</text>
<text x="966.9" y="133.8" font-size="7.8" font-weight="normal" text-anchor="middle" fill="#404040" >A</text>
<text x="988.8" y="133.8" font-size="7.8" font-weight="normal" text-anchor="middle" fill="#404040" >W</text>
<text x="999.2" y="133.8" font-size="7.8" font-weight="normal" text-anchor="middle" fill="#404040" >S</text>
<rect x="946.80" y="136.70" width="57.30" height="13.00" fill="#b8f4f0" stroke="#3c4a4a" stroke-width="1" rx="0" />
<text x="975.5" y="146.7" font-size="9.9" font-weight="normal" text-anchor="middle" fill="#0e3c3c" textLength="34.5" lengthAdjust="spacingAndGlyphs" >3,67 bar</text>
<line x1="976.7" y1="150.2" x2="976.7" y2="156.8" stroke="#333" stroke-width="0.8" />
<rect x="970.90" y="156.80" width="11.60" height="5.60" fill="#f0f0f0" stroke="#444" stroke-width="0.8" rx="1.8" />
<rect x="970.90" y="162.60" width="11.60" height="4.00" fill="#f0f0f0" stroke="#444" stroke-width="0.8" rx="1.8" />
<rect x="972.90" y="166.60" width="7.60" height="5.30" fill="#e8e8e8" stroke="#444" stroke-width="0.6" rx="0" />
<rect x="973.20" y="171.50" width="7.00" height="5.50" fill="#e4e41c" stroke="#707010" stroke-width="0.5" rx="0" />
<text x="914.2" y="147.5" font-size="6.7" font-weight="bold" text-anchor="middle" fill="#1c1c1c" textLength="10.8" lengthAdjust="spacingAndGlyphs" stroke="#1c1c1c" stroke-width="0.22">VM</text>
<rect x="896.00" y="174.00" width="36.40" height="15.00" fill="url(#vmg)" stroke="#064a06" stroke-width="0.6" rx="0" />
<rect x="891.60" y="171.30" width="4.40" height="18.20" fill="url(#vmg)" stroke="#064a06" stroke-width="0.7" rx="0.8" />
<rect x="898.90" y="171.30" width="5.10" height="18.20" fill="url(#vmg)" stroke="#064a06" stroke-width="0.7" rx="0.8" />
<rect x="925.90" y="171.30" width="4.30" height="18.20" fill="url(#vmg)" stroke="#064a06" stroke-width="0.7" rx="0.8" />
<rect x="932.40" y="171.30" width="4.40" height="18.20" fill="url(#vmg)" stroke="#064a06" stroke-width="0.7" rx="0.8" />
<rect x="905.90" y="169.80" width="17.50" height="21.20" fill="url(#vmg)" stroke="#064a06" stroke-width="0.8" rx="1" />
<rect x="910.00" y="162.00" width="9.00" height="8.00" fill="url(#vmg)" stroke="#064a06" stroke-width="0.6" rx="0" />
<rect x="908.40" y="161.80" width="12.40" height="3.70" fill="url(#vmg)" stroke="#064a06" stroke-width="0.6" rx="1" />
<rect x="908.40" y="157.50" width="12.40" height="2.90" fill="url(#vmg)" stroke="#064a06" stroke-width="0.6" rx="1" />
<rect x="910.00" y="156.00" width="9.00" height="2.00" fill="url(#vmg)" stroke="#064a06" stroke-width="0.5" rx="0" />
<rect x="906.20" y="149.00" width="16.70" height="7.00" fill="url(#vmg)" stroke="#064a06" stroke-width="0.8" rx="0.8" />
<rect x="989.80" y="166.50" width="29.20" height="29.20" fill="#0e880e" stroke="#063806" stroke-width="1" rx="0" />
<text x="1004.4" y="184.2" font-size="10" font-weight="bold" text-anchor="middle" fill="#0a2a0a" textLength="21.5" lengthAdjust="spacingAndGlyphs" stroke="#0a2a0a" stroke-width="0.3">RED</text>
<text x="857.8" y="248.3" font-size="6.7" font-weight="bold" text-anchor="middle" fill="#1c1c1c" textLength="48.1" lengthAdjust="spacingAndGlyphs" stroke="#1c1c1c" stroke-width="0.22">CONT.BYPASS</text>
<rect x="826.00" y="249.70" width="28.00" height="8.40" fill="#c8c8c8" stroke="none" stroke-width="1" rx="0" />
<rect x="868.70" y="249.70" width="22.00" height="8.40" fill="#c8c8c8" stroke="none" stroke-width="1" rx="0" />
<text x="833.7" y="256.5" font-size="7.8" font-weight="normal" text-anchor="middle" fill="#404040" >IL</text>
<text x="846.6" y="256.5" font-size="7.8" font-weight="normal" text-anchor="middle" fill="#404040" >A</text>
<text x="874.9" y="256.5" font-size="7.8" font-weight="normal" text-anchor="middle" fill="#404040" >W</text>
<text x="885.3" y="256.5" font-size="7.8" font-weight="normal" text-anchor="middle" fill="#404040" >S</text>
<rect x="826.50" y="259.40" width="63.70" height="13.60" fill="#d8d8d8" stroke="#3c4a4a" stroke-width="1" rx="0" />
<text x="858.4" y="269.7" font-size="9.9" font-weight="normal" text-anchor="middle" fill="#0e3c3c" textLength="51" lengthAdjust="spacingAndGlyphs" >0000000 m3</text>
<line x1="858.3" y1="273.5" x2="858.3" y2="282" stroke="#333" stroke-width="0.8" />
<rect x="848.30" y="292.30" width="20.30" height="10.00" fill="#dcdcdc" stroke="#4a4a4a" stroke-width="0.6" rx="0" />
<circle cx="858.3" cy="297.3" r="4.6" fill="#eeeeee" stroke="#555" stroke-width="0.7"/>
<rect x="844.60" y="289.30" width="3.70" height="16.00" fill="#d0d0d0" stroke="#4a4a4a" stroke-width="0.9" rx="1.8" />
<rect x="868.60" y="289.30" width="3.20" height="16.00" fill="#d0d0d0" stroke="#4a4a4a" stroke-width="0.9" rx="1.8" />
<rect x="855.30" y="290.30" width="6.00" height="2.50" fill="#666" stroke="none" stroke-width="1" rx="0" />
<rect x="850.30" y="281.00" width="16.00" height="9.10" fill="url(#fmg)" stroke="#2c2c64" stroke-width="0.8" rx="0" />
<rect x="857.10" y="287.80" width="2.40" height="1.50" fill="#334" stroke="none" stroke-width="1" rx="0" />
<text x="927.6" y="270.0" font-size="6.7" font-weight="bold" text-anchor="middle" fill="#1c1c1c" textLength="26.8" lengthAdjust="spacingAndGlyphs" stroke="#1c1c1c" stroke-width="0.22">BYPASS</text>
<rect x="897.50" y="276.90" width="15.30" height="8.50" fill="#c8c8c8" stroke="none" stroke-width="1" rx="0" />
<text x="905.1" y="283.9" font-size="7.8" font-weight="normal" text-anchor="middle" fill="#404040" >IL</text>
<rect x="940.00" y="276.90" width="10.20" height="8.50" fill="#c8c8c8" stroke="none" stroke-width="1" rx="0" />
<text x="945.1" y="283.9" font-size="7.8" font-weight="normal" text-anchor="middle" fill="#404040" >S</text>
<rect x="912.90" y="289.30" width="6.60" height="15.30" fill="#24b824" stroke="#064a06" stroke-width="0.8" rx="1" />
<rect x="933.80" y="289.30" width="6.10" height="15.30" fill="#24b824" stroke="#064a06" stroke-width="0.8" rx="1" />
<rect x="919.50" y="289.70" width="14.30" height="14.60" fill="#24b824" stroke="#064a06" stroke-width="0.8" rx="0" />
<rect x="921.50" y="285.10" width="10.20" height="4.60" fill="#24b824" stroke="#064a06" stroke-width="0.7" rx="0" />
<rect x="924.10" y="279.50" width="5.00" height="5.60" fill="#24b824" stroke="#064a06" stroke-width="0.7" rx="0" />
<path d="M919.7,279.7 Q920.0,275.5 926.6,275.5 Q933.2,275.5 933.5,279.7 Z" fill="#24b824" stroke="#064a06" stroke-width="0.8"/>
<rect x="902.00" y="305.80" width="10.00" height="8.50" fill="#0e880e" stroke="#0a5a0a" stroke-width="0.5" rx="0" />
<text x="907.0" y="312.3" font-size="6" font-weight="normal" text-anchor="middle" fill="#044a04" >R</text>
<rect x="940.00" y="305.80" width="10.90" height="8.50" fill="#f0c840" stroke="#0a5a0a" stroke-width="0.5" rx="0" />
<text x="945.5" y="312.3" font-size="6" font-weight="normal" text-anchor="middle" fill="#8a5a00" >M</text>
<rect x="788.20" y="318.20" width="194.20" height="54.50" fill="#eef0f3" stroke="#4a4a4a" stroke-width="1" rx="0" />
<rect x="795.50" y="327.50" width="79.00" height="40.00" fill="#d0d0d0" stroke="none" stroke-width="1" rx="0" />
<rect x="797" y="329" width="76.4" height="37.3" rx="5" fill="#c2c2c2" stroke="#333" stroke-width="1.6"/>
<rect x="799" y="331" width="72.4" height="33.3" rx="4" fill="none" stroke="#e4e4e4" stroke-width="1" opacity="0.7"/>
<text x="834.7" y="351.2" font-size="12.5" font-weight="bold" text-anchor="middle" fill="#111" textLength="48" lengthAdjust="spacingAndGlyphs" stroke="#111" stroke-width="0.35">ABONAR</text>
<rect x="894" y="329" width="77.2" height="37.3" rx="5" fill="#46aa46" stroke="#1c401c" stroke-width="1.6"/>
<rect x="896" y="331" width="73.2" height="33.3" rx="4" fill="none" stroke="#66c066" stroke-width="1" opacity="0.7"/>
<text x="932.0" y="351.2" font-size="12.5" font-weight="bold" text-anchor="middle" fill="#111" textLength="48.4" lengthAdjust="spacingAndGlyphs" stroke="#111" stroke-width="0.35">FILTRAR</text>
<rect x="0.00" y="384.50" width="1024.00" height="8.00" fill="#f6f6f6" stroke="none" stroke-width="1" rx="0" />
<line x1="0" y1="384.5" x2="1024" y2="384.5" stroke="#c4c4c4" stroke-width="1" />
<line x1="263" y1="385" x2="263" y2="392.5" stroke="#c0c0c0" stroke-width="1" />
<line x1="466.2" y1="385" x2="466.2" y2="392.5" stroke="#c0c0c0" stroke-width="1" />
<line x1="670.5" y1="385" x2="670.5" y2="392.5" stroke="#c0c0c0" stroke-width="1" />
<line x1="874.5" y1="385" x2="874.5" y2="392.5" stroke="#c0c0c0" stroke-width="1" />
<text x="129.9" y="391.0" font-size="6.2" font-weight="normal" text-anchor="middle" fill="#222" textLength="49.5" lengthAdjust="spacingAndGlyphs" >Descripción de Alarma</text>
<text x="360.2" y="391.1" font-size="6.2" font-weight="normal" text-anchor="middle" fill="#222" textLength="26" lengthAdjust="spacingAndGlyphs" >Tiempo ON</text>
<text x="568.8" y="391.1" font-size="6.2" font-weight="normal" text-anchor="middle" fill="#222" textLength="20" lengthAdjust="spacingAndGlyphs" >Duración</text>
<text x="772.0" y="391.1" font-size="6.2" font-weight="normal" text-anchor="middle" fill="#222" textLength="19.5" lengthAdjust="spacingAndGlyphs" >Prioridad</text>
<text x="977.9" y="391.1" font-size="6.2" font-weight="normal" text-anchor="middle" fill="#222" textLength="22" lengthAdjust="spacingAndGlyphs" >Condición</text>
<rect x="0.00" y="392.50" width="1024.00" height="19.50" fill="#ff0c0c" stroke="none" stroke-width="1" rx="0" />
<rect x="6.00" y="401.20" width="1018.00" height="1.30" fill="#ff6a6a" stroke="none" stroke-width="1" rx="0" />
<rect x="0.00" y="392.50" width="1024.00" height="1.00" fill="#d80808" stroke="none" stroke-width="1" rx="0" />
<rect x="0.00" y="392.50" width="6.30" height="19.50" fill="#141414" stroke="none" stroke-width="1" rx="0" />
<path d="M460.2,386.6 L464.6,386.6 L463.2,390.8 Z" fill="none" stroke="#777" stroke-width="0.6"/>
<line x1="263" y1="392.5" x2="263" y2="412" stroke="#ffa8a8" stroke-width="1" />
<line x1="466.2" y1="392.5" x2="466.2" y2="412" stroke="#ffa8a8" stroke-width="1" />
<line x1="670.5" y1="392.5" x2="670.5" y2="412" stroke="#ffa8a8" stroke-width="1" />
<line x1="874.5" y1="392.5" x2="874.5" y2="412" stroke="#ffa8a8" stroke-width="1" />
<text x="139.7" y="399.6" font-size="5.8" font-weight="normal" text-anchor="middle" fill="#a00000" textLength="134" lengthAdjust="spacingAndGlyphs" >BOMBA BLOQUE BOMBA 1 (1) - ERROR EN VARIADOR NODO 1 - ERR</text>
<text x="140.0" y="408.7" font-size="5.8" font-weight="normal" text-anchor="middle" fill="#a00000" textLength="63" lengthAdjust="spacingAndGlyphs" >Falta Abono Normal 1 - Nivel bajo</text>
<text x="364.5" y="399.8" font-size="5.8" font-weight="normal" text-anchor="middle" fill="#a00000" textLength="46" lengthAdjust="spacingAndGlyphs" >00/00/2015 16:30:00</text>
<text x="364.5" y="408.3" font-size="5.8" font-weight="normal" text-anchor="middle" fill="#a00000" textLength="46" lengthAdjust="spacingAndGlyphs" >00/00/2015 16:30:00</text>
<text x="568.5" y="399.8" font-size="5.8" font-weight="normal" text-anchor="middle" fill="#a00000" textLength="23" lengthAdjust="spacingAndGlyphs" >1:00:24:00</text>
<text x="568.5" y="408.3" font-size="5.8" font-weight="normal" text-anchor="middle" fill="#a00000" textLength="23" lengthAdjust="spacingAndGlyphs" >1:00:22:00</text>
<text x="772.0" y="399.6" font-size="5.8" font-weight="normal" text-anchor="middle" fill="#a00000" >1</text>
<text x="772.0" y="408.7" font-size="5.8" font-weight="normal" text-anchor="middle" fill="#a00000" >1</text>
<text x="977.4" y="399.8" font-size="5.8" font-weight="normal" text-anchor="middle" fill="#a00000" textLength="10" lengthAdjust="spacingAndGlyphs" >ON</text>
<text x="977.4" y="408.3" font-size="5.8" font-weight="normal" text-anchor="middle" fill="#a00000" textLength="10" lengthAdjust="spacingAndGlyphs" >ON</text>
</svg></body></html>
